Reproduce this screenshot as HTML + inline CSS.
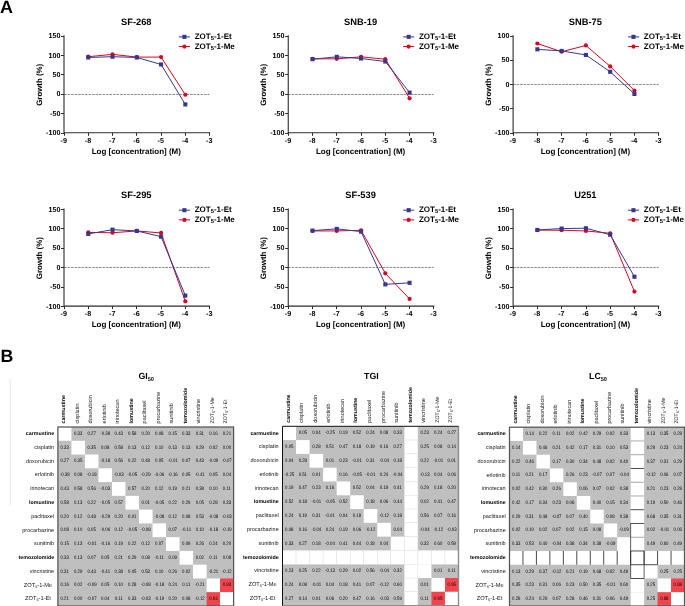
<!DOCTYPE html>
<html><head><meta charset="utf-8"><title>Figure</title>
<style>
html,body{margin:0;padding:0;background:#fff;}
body{width:685px;height:606px;overflow:hidden;font-family:"Liberation Sans",sans-serif;}
svg{display:block;will-change:transform;}
text{font-family:"Liberation Sans",sans-serif;}
</style></head><body>
<svg width="685" height="606" viewBox="0 0 685 606" text-rendering="geometricPrecision">
<rect width="685" height="606" fill="#fff"/>
<text x="0.1" y="12.7" font-size="17.9" font-weight="bold" font-family="Liberation Sans, sans-serif">A</text>
<text x="0.4" y="361.9" font-size="17.8" font-weight="bold" font-family="Liberation Sans, sans-serif">B</text>
<text x="136.3" y="24.6" font-size="9.3" font-weight="bold" text-anchor="middle" font-family="Liberation Sans, sans-serif">SF-268</text>
<line x1="64.0" y1="94.45" x2="209.6" y2="94.45" stroke="#3a3a3a" stroke-width="0.6" stroke-dasharray="2.6 0.9"/>
<path d="M64.00 35.25V132.75H210.10" fill="none" stroke="#2c2c2c" stroke-width="1.1"/>
<line x1="61.0" y1="36.50" x2="64.0" y2="36.50" stroke="#2c2c2c" stroke-width="1"/>
<text x="60.4" y="38.20" font-size="7.2" font-weight="bold" text-anchor="end" font-family="Liberation Sans, sans-serif">150</text>
<line x1="61.0" y1="55.50" x2="64.0" y2="55.50" stroke="#2c2c2c" stroke-width="1"/>
<text x="60.4" y="57.60" font-size="7.2" font-weight="bold" text-anchor="end" font-family="Liberation Sans, sans-serif">100</text>
<line x1="61.0" y1="74.50" x2="64.0" y2="74.50" stroke="#2c2c2c" stroke-width="1"/>
<text x="60.4" y="77.00" font-size="7.2" font-weight="bold" text-anchor="end" font-family="Liberation Sans, sans-serif">50</text>
<line x1="61.0" y1="94.50" x2="64.0" y2="94.50" stroke="#2c2c2c" stroke-width="1"/>
<text x="60.4" y="96.40" font-size="7.2" font-weight="bold" text-anchor="end" font-family="Liberation Sans, sans-serif">0</text>
<line x1="61.0" y1="113.50" x2="64.0" y2="113.50" stroke="#2c2c2c" stroke-width="1"/>
<text x="60.4" y="115.80" font-size="7.2" font-weight="bold" text-anchor="end" font-family="Liberation Sans, sans-serif">-50</text>
<line x1="61.0" y1="133.50" x2="64.0" y2="133.50" stroke="#2c2c2c" stroke-width="1"/>
<text x="60.4" y="135.20" font-size="7.2" font-weight="bold" text-anchor="end" font-family="Liberation Sans, sans-serif">-100</text>
<line x1="64.50" y1="132.8" x2="64.50" y2="135.8" stroke="#2c2c2c" stroke-width="1"/>
<text x="63.70" y="142.75" font-size="7.2" font-weight="bold" text-anchor="middle" font-family="Liberation Sans, sans-serif">-9</text>
<line x1="88.50" y1="132.8" x2="88.50" y2="135.8" stroke="#2c2c2c" stroke-width="1"/>
<text x="87.97" y="142.75" font-size="7.2" font-weight="bold" text-anchor="middle" font-family="Liberation Sans, sans-serif">-8</text>
<line x1="112.50" y1="132.8" x2="112.50" y2="135.8" stroke="#2c2c2c" stroke-width="1"/>
<text x="112.23" y="142.75" font-size="7.2" font-weight="bold" text-anchor="middle" font-family="Liberation Sans, sans-serif">-7</text>
<line x1="136.50" y1="132.8" x2="136.50" y2="135.8" stroke="#2c2c2c" stroke-width="1"/>
<text x="136.50" y="142.75" font-size="7.2" font-weight="bold" text-anchor="middle" font-family="Liberation Sans, sans-serif">-6</text>
<line x1="161.50" y1="132.8" x2="161.50" y2="135.8" stroke="#2c2c2c" stroke-width="1"/>
<text x="160.77" y="142.75" font-size="7.2" font-weight="bold" text-anchor="middle" font-family="Liberation Sans, sans-serif">-5</text>
<line x1="185.50" y1="132.8" x2="185.50" y2="135.8" stroke="#2c2c2c" stroke-width="1"/>
<text x="185.03" y="142.75" font-size="7.2" font-weight="bold" text-anchor="middle" font-family="Liberation Sans, sans-serif">-4</text>
<line x1="209.50" y1="132.8" x2="209.50" y2="135.8" stroke="#2c2c2c" stroke-width="1"/>
<text x="209.30" y="142.75" font-size="7.2" font-weight="bold" text-anchor="middle" font-family="Liberation Sans, sans-serif">-3</text>
<text x="136.3" y="153.75" font-size="8.0" font-weight="bold" text-anchor="middle" font-family="Liberation Sans, sans-serif">Log [concentration] (M)</text>
<text transform="translate(41.5 84.8) rotate(-90)" font-size="7.9" font-weight="bold" text-anchor="middle" font-family="Liberation Sans, sans-serif">Growth (%)</text>
<polyline points="88.27,56.70 112.53,54.37 136.80,57.09 161.07,57.09 185.33,94.73" fill="none" stroke="#d8061f" stroke-width="1.0"/>
<circle cx="88.27" cy="56.70" r="2.1" fill="#d8061f"/>
<circle cx="112.53" cy="54.37" r="2.1" fill="#d8061f"/>
<circle cx="136.80" cy="57.09" r="2.1" fill="#d8061f"/>
<circle cx="161.07" cy="57.09" r="2.1" fill="#d8061f"/>
<circle cx="185.33" cy="94.73" r="2.1" fill="#d8061f"/>
<polyline points="88.27,57.48 112.53,56.70 136.80,57.48 161.07,64.46 185.33,104.43" fill="none" stroke="#37378f" stroke-width="1.0"/>
<rect x="86.22" y="55.43" width="4.1" height="4.1" fill="#37378f"/>
<rect x="110.48" y="54.65" width="4.1" height="4.1" fill="#37378f"/>
<rect x="134.75" y="55.43" width="4.1" height="4.1" fill="#37378f"/>
<rect x="159.02" y="62.41" width="4.1" height="4.1" fill="#37378f"/>
<rect x="183.28" y="102.38" width="4.1" height="4.1" fill="#37378f"/>
<line x1="178.8" y1="36.9" x2="190.0" y2="36.9" stroke="#37378f" stroke-width="1.0"/>
<rect x="182.35" y="34.80" width="4.1" height="4.1" fill="#37378f"/>
<line x1="178.8" y1="46.5" x2="190.0" y2="46.5" stroke="#d8061f" stroke-width="1.0"/>
<circle cx="184.40" cy="46.55" r="2.1" fill="#d8061f"/>
<text x="194.7" y="38.80" font-size="8.0" font-weight="bold" font-family="Liberation Sans, sans-serif">ZOT<tspan font-size="5.8" dy="1.3">5</tspan><tspan dy="-1.3">-1-Et</tspan></text>
<text x="194.7" y="48.50" font-size="8.0" font-weight="bold" font-family="Liberation Sans, sans-serif">ZOT<tspan font-size="5.8" dy="1.3">5</tspan><tspan dy="-1.3">-1-Me</tspan></text>
<text x="360.6" y="24.6" font-size="9.3" font-weight="bold" text-anchor="middle" font-family="Liberation Sans, sans-serif">SNB-19</text>
<line x1="288.2" y1="94.45" x2="433.9" y2="94.45" stroke="#3a3a3a" stroke-width="0.6" stroke-dasharray="2.6 0.9"/>
<path d="M288.25 35.25V132.75H434.35" fill="none" stroke="#2c2c2c" stroke-width="1.1"/>
<line x1="285.2" y1="36.50" x2="288.2" y2="36.50" stroke="#2c2c2c" stroke-width="1"/>
<text x="284.6" y="38.20" font-size="7.2" font-weight="bold" text-anchor="end" font-family="Liberation Sans, sans-serif">150</text>
<line x1="285.2" y1="55.50" x2="288.2" y2="55.50" stroke="#2c2c2c" stroke-width="1"/>
<text x="284.6" y="57.60" font-size="7.2" font-weight="bold" text-anchor="end" font-family="Liberation Sans, sans-serif">100</text>
<line x1="285.2" y1="74.50" x2="288.2" y2="74.50" stroke="#2c2c2c" stroke-width="1"/>
<text x="284.6" y="77.00" font-size="7.2" font-weight="bold" text-anchor="end" font-family="Liberation Sans, sans-serif">50</text>
<line x1="285.2" y1="94.50" x2="288.2" y2="94.50" stroke="#2c2c2c" stroke-width="1"/>
<text x="284.6" y="96.40" font-size="7.2" font-weight="bold" text-anchor="end" font-family="Liberation Sans, sans-serif">0</text>
<line x1="285.2" y1="113.50" x2="288.2" y2="113.50" stroke="#2c2c2c" stroke-width="1"/>
<text x="284.6" y="115.80" font-size="7.2" font-weight="bold" text-anchor="end" font-family="Liberation Sans, sans-serif">-50</text>
<line x1="285.2" y1="133.50" x2="288.2" y2="133.50" stroke="#2c2c2c" stroke-width="1"/>
<text x="284.6" y="135.20" font-size="7.2" font-weight="bold" text-anchor="end" font-family="Liberation Sans, sans-serif">-100</text>
<line x1="288.50" y1="132.8" x2="288.50" y2="135.8" stroke="#2c2c2c" stroke-width="1"/>
<text x="287.95" y="142.75" font-size="7.2" font-weight="bold" text-anchor="middle" font-family="Liberation Sans, sans-serif">-9</text>
<line x1="312.50" y1="132.8" x2="312.50" y2="135.8" stroke="#2c2c2c" stroke-width="1"/>
<text x="312.22" y="142.75" font-size="7.2" font-weight="bold" text-anchor="middle" font-family="Liberation Sans, sans-serif">-8</text>
<line x1="336.50" y1="132.8" x2="336.50" y2="135.8" stroke="#2c2c2c" stroke-width="1"/>
<text x="336.48" y="142.75" font-size="7.2" font-weight="bold" text-anchor="middle" font-family="Liberation Sans, sans-serif">-7</text>
<line x1="361.50" y1="132.8" x2="361.50" y2="135.8" stroke="#2c2c2c" stroke-width="1"/>
<text x="360.75" y="142.75" font-size="7.2" font-weight="bold" text-anchor="middle" font-family="Liberation Sans, sans-serif">-6</text>
<line x1="385.50" y1="132.8" x2="385.50" y2="135.8" stroke="#2c2c2c" stroke-width="1"/>
<text x="385.02" y="142.75" font-size="7.2" font-weight="bold" text-anchor="middle" font-family="Liberation Sans, sans-serif">-5</text>
<line x1="409.50" y1="132.8" x2="409.50" y2="135.8" stroke="#2c2c2c" stroke-width="1"/>
<text x="409.28" y="142.75" font-size="7.2" font-weight="bold" text-anchor="middle" font-family="Liberation Sans, sans-serif">-4</text>
<line x1="433.50" y1="132.8" x2="433.50" y2="135.8" stroke="#2c2c2c" stroke-width="1"/>
<text x="433.55" y="142.75" font-size="7.2" font-weight="bold" text-anchor="middle" font-family="Liberation Sans, sans-serif">-3</text>
<text x="360.6" y="153.75" font-size="8.0" font-weight="bold" text-anchor="middle" font-family="Liberation Sans, sans-serif">Log [concentration] (M)</text>
<text transform="translate(265.8 84.8) rotate(-90)" font-size="7.9" font-weight="bold" text-anchor="middle" font-family="Liberation Sans, sans-serif">Growth (%)</text>
<polyline points="312.52,58.84 336.78,58.84 361.05,56.82 385.32,59.19 409.58,98.30" fill="none" stroke="#d8061f" stroke-width="1.0"/>
<circle cx="312.52" cy="58.84" r="2.1" fill="#d8061f"/>
<circle cx="336.78" cy="58.84" r="2.1" fill="#d8061f"/>
<circle cx="361.05" cy="56.82" r="2.1" fill="#d8061f"/>
<circle cx="385.32" cy="59.19" r="2.1" fill="#d8061f"/>
<circle cx="409.58" cy="98.30" r="2.1" fill="#d8061f"/>
<polyline points="312.52,59.19 336.78,56.82 361.05,58.49 385.32,61.51 409.58,92.63" fill="none" stroke="#37378f" stroke-width="1.0"/>
<rect x="310.47" y="57.14" width="4.1" height="4.1" fill="#37378f"/>
<rect x="334.73" y="54.77" width="4.1" height="4.1" fill="#37378f"/>
<rect x="359.00" y="56.44" width="4.1" height="4.1" fill="#37378f"/>
<rect x="383.27" y="59.46" width="4.1" height="4.1" fill="#37378f"/>
<rect x="407.53" y="90.58" width="4.1" height="4.1" fill="#37378f"/>
<line x1="403.1" y1="36.9" x2="414.2" y2="36.9" stroke="#37378f" stroke-width="1.0"/>
<rect x="406.60" y="34.80" width="4.1" height="4.1" fill="#37378f"/>
<line x1="403.1" y1="46.5" x2="414.2" y2="46.5" stroke="#d8061f" stroke-width="1.0"/>
<circle cx="408.65" cy="46.55" r="2.1" fill="#d8061f"/>
<text x="418.9" y="38.80" font-size="8.0" font-weight="bold" font-family="Liberation Sans, sans-serif">ZOT<tspan font-size="5.8" dy="1.3">5</tspan><tspan dy="-1.3">-1-Et</tspan></text>
<text x="418.9" y="48.50" font-size="8.0" font-weight="bold" font-family="Liberation Sans, sans-serif">ZOT<tspan font-size="5.8" dy="1.3">5</tspan><tspan dy="-1.3">-1-Me</tspan></text>
<text x="585.4" y="24.6" font-size="9.3" font-weight="bold" text-anchor="middle" font-family="Liberation Sans, sans-serif">SNB-75</text>
<line x1="513.1" y1="84.45" x2="658.7" y2="84.45" stroke="#3a3a3a" stroke-width="0.6" stroke-dasharray="2.6 0.9"/>
<path d="M513.10 35.25V132.75H659.20" fill="none" stroke="#2c2c2c" stroke-width="1.1"/>
<line x1="510.1" y1="36.50" x2="513.1" y2="36.50" stroke="#2c2c2c" stroke-width="1"/>
<text x="509.5" y="38.20" font-size="7.2" font-weight="bold" text-anchor="end" font-family="Liberation Sans, sans-serif">100</text>
<line x1="510.1" y1="60.50" x2="513.1" y2="60.50" stroke="#2c2c2c" stroke-width="1"/>
<text x="509.5" y="62.45" font-size="7.2" font-weight="bold" text-anchor="end" font-family="Liberation Sans, sans-serif">50</text>
<line x1="510.1" y1="84.50" x2="513.1" y2="84.50" stroke="#2c2c2c" stroke-width="1"/>
<text x="509.5" y="86.70" font-size="7.2" font-weight="bold" text-anchor="end" font-family="Liberation Sans, sans-serif">0</text>
<line x1="510.1" y1="108.50" x2="513.1" y2="108.50" stroke="#2c2c2c" stroke-width="1"/>
<text x="509.5" y="110.95" font-size="7.2" font-weight="bold" text-anchor="end" font-family="Liberation Sans, sans-serif">-50</text>
<line x1="510.1" y1="133.50" x2="513.1" y2="133.50" stroke="#2c2c2c" stroke-width="1"/>
<text x="509.5" y="135.20" font-size="7.2" font-weight="bold" text-anchor="end" font-family="Liberation Sans, sans-serif">-100</text>
<line x1="513.50" y1="132.8" x2="513.50" y2="135.8" stroke="#2c2c2c" stroke-width="1"/>
<text x="512.80" y="142.75" font-size="7.2" font-weight="bold" text-anchor="middle" font-family="Liberation Sans, sans-serif">-9</text>
<line x1="537.50" y1="132.8" x2="537.50" y2="135.8" stroke="#2c2c2c" stroke-width="1"/>
<text x="537.07" y="142.75" font-size="7.2" font-weight="bold" text-anchor="middle" font-family="Liberation Sans, sans-serif">-8</text>
<line x1="561.50" y1="132.8" x2="561.50" y2="135.8" stroke="#2c2c2c" stroke-width="1"/>
<text x="561.33" y="142.75" font-size="7.2" font-weight="bold" text-anchor="middle" font-family="Liberation Sans, sans-serif">-7</text>
<line x1="586.50" y1="132.8" x2="586.50" y2="135.8" stroke="#2c2c2c" stroke-width="1"/>
<text x="585.60" y="142.75" font-size="7.2" font-weight="bold" text-anchor="middle" font-family="Liberation Sans, sans-serif">-6</text>
<line x1="610.50" y1="132.8" x2="610.50" y2="135.8" stroke="#2c2c2c" stroke-width="1"/>
<text x="609.87" y="142.75" font-size="7.2" font-weight="bold" text-anchor="middle" font-family="Liberation Sans, sans-serif">-5</text>
<line x1="634.50" y1="132.8" x2="634.50" y2="135.8" stroke="#2c2c2c" stroke-width="1"/>
<text x="634.13" y="142.75" font-size="7.2" font-weight="bold" text-anchor="middle" font-family="Liberation Sans, sans-serif">-4</text>
<line x1="658.50" y1="132.8" x2="658.50" y2="135.8" stroke="#2c2c2c" stroke-width="1"/>
<text x="658.40" y="142.75" font-size="7.2" font-weight="bold" text-anchor="middle" font-family="Liberation Sans, sans-serif">-3</text>
<text x="585.4" y="153.75" font-size="8.0" font-weight="bold" text-anchor="middle" font-family="Liberation Sans, sans-serif">Log [concentration] (M)</text>
<text transform="translate(490.6 84.8) rotate(-90)" font-size="7.9" font-weight="bold" text-anchor="middle" font-family="Liberation Sans, sans-serif">Growth (%)</text>
<polyline points="537.37,43.51 561.63,51.75 585.90,45.45 610.17,66.40 634.43,90.56" fill="none" stroke="#d8061f" stroke-width="1.0"/>
<circle cx="537.37" cy="43.51" r="2.1" fill="#d8061f"/>
<circle cx="561.63" cy="51.75" r="2.1" fill="#d8061f"/>
<circle cx="585.90" cy="45.45" r="2.1" fill="#d8061f"/>
<circle cx="610.17" cy="66.40" r="2.1" fill="#d8061f"/>
<circle cx="634.43" cy="90.56" r="2.1" fill="#d8061f"/>
<polyline points="537.37,49.33 561.63,50.93 585.90,54.96 610.17,71.79 634.43,93.95" fill="none" stroke="#37378f" stroke-width="1.0"/>
<rect x="535.32" y="47.28" width="4.1" height="4.1" fill="#37378f"/>
<rect x="559.58" y="48.88" width="4.1" height="4.1" fill="#37378f"/>
<rect x="583.85" y="52.91" width="4.1" height="4.1" fill="#37378f"/>
<rect x="608.12" y="69.74" width="4.1" height="4.1" fill="#37378f"/>
<rect x="632.38" y="91.90" width="4.1" height="4.1" fill="#37378f"/>
<line x1="627.9" y1="36.9" x2="639.1" y2="36.9" stroke="#37378f" stroke-width="1.0"/>
<rect x="631.45" y="34.80" width="4.1" height="4.1" fill="#37378f"/>
<line x1="627.9" y1="46.5" x2="639.1" y2="46.5" stroke="#d8061f" stroke-width="1.0"/>
<circle cx="633.50" cy="46.55" r="2.1" fill="#d8061f"/>
<text x="643.8" y="38.80" font-size="8.0" font-weight="bold" font-family="Liberation Sans, sans-serif">ZOT<tspan font-size="5.8" dy="1.3">5</tspan><tspan dy="-1.3">-1-Et</tspan></text>
<text x="643.8" y="48.50" font-size="8.0" font-weight="bold" font-family="Liberation Sans, sans-serif">ZOT<tspan font-size="5.8" dy="1.3">5</tspan><tspan dy="-1.3">-1-Me</tspan></text>
<text x="136.3" y="197.9" font-size="9.3" font-weight="bold" text-anchor="middle" font-family="Liberation Sans, sans-serif">SF-295</text>
<line x1="64.0" y1="267.45" x2="209.6" y2="267.45" stroke="#3a3a3a" stroke-width="0.6" stroke-dasharray="2.6 0.9"/>
<path d="M64.00 208.60V306.10H210.10" fill="none" stroke="#2c2c2c" stroke-width="1.1"/>
<line x1="61.0" y1="209.50" x2="64.0" y2="209.50" stroke="#2c2c2c" stroke-width="1"/>
<text x="60.4" y="211.55" font-size="7.2" font-weight="bold" text-anchor="end" font-family="Liberation Sans, sans-serif">150</text>
<line x1="61.0" y1="228.50" x2="64.0" y2="228.50" stroke="#2c2c2c" stroke-width="1"/>
<text x="60.4" y="230.95" font-size="7.2" font-weight="bold" text-anchor="end" font-family="Liberation Sans, sans-serif">100</text>
<line x1="61.0" y1="248.50" x2="64.0" y2="248.50" stroke="#2c2c2c" stroke-width="1"/>
<text x="60.4" y="250.35" font-size="7.2" font-weight="bold" text-anchor="end" font-family="Liberation Sans, sans-serif">50</text>
<line x1="61.0" y1="267.50" x2="64.0" y2="267.50" stroke="#2c2c2c" stroke-width="1"/>
<text x="60.4" y="269.75" font-size="7.2" font-weight="bold" text-anchor="end" font-family="Liberation Sans, sans-serif">0</text>
<line x1="61.0" y1="287.50" x2="64.0" y2="287.50" stroke="#2c2c2c" stroke-width="1"/>
<text x="60.4" y="289.15" font-size="7.2" font-weight="bold" text-anchor="end" font-family="Liberation Sans, sans-serif">-50</text>
<line x1="61.0" y1="306.50" x2="64.0" y2="306.50" stroke="#2c2c2c" stroke-width="1"/>
<text x="60.4" y="308.55" font-size="7.2" font-weight="bold" text-anchor="end" font-family="Liberation Sans, sans-serif">-100</text>
<line x1="64.50" y1="306.1" x2="64.50" y2="309.1" stroke="#2c2c2c" stroke-width="1"/>
<text x="63.70" y="316.10" font-size="7.2" font-weight="bold" text-anchor="middle" font-family="Liberation Sans, sans-serif">-9</text>
<line x1="88.50" y1="306.1" x2="88.50" y2="309.1" stroke="#2c2c2c" stroke-width="1"/>
<text x="87.97" y="316.10" font-size="7.2" font-weight="bold" text-anchor="middle" font-family="Liberation Sans, sans-serif">-8</text>
<line x1="112.50" y1="306.1" x2="112.50" y2="309.1" stroke="#2c2c2c" stroke-width="1"/>
<text x="112.23" y="316.10" font-size="7.2" font-weight="bold" text-anchor="middle" font-family="Liberation Sans, sans-serif">-7</text>
<line x1="136.50" y1="306.1" x2="136.50" y2="309.1" stroke="#2c2c2c" stroke-width="1"/>
<text x="136.50" y="316.10" font-size="7.2" font-weight="bold" text-anchor="middle" font-family="Liberation Sans, sans-serif">-6</text>
<line x1="161.50" y1="306.1" x2="161.50" y2="309.1" stroke="#2c2c2c" stroke-width="1"/>
<text x="160.77" y="316.10" font-size="7.2" font-weight="bold" text-anchor="middle" font-family="Liberation Sans, sans-serif">-5</text>
<line x1="185.50" y1="306.1" x2="185.50" y2="309.1" stroke="#2c2c2c" stroke-width="1"/>
<text x="185.03" y="316.10" font-size="7.2" font-weight="bold" text-anchor="middle" font-family="Liberation Sans, sans-serif">-4</text>
<line x1="209.50" y1="306.1" x2="209.50" y2="309.1" stroke="#2c2c2c" stroke-width="1"/>
<text x="209.30" y="316.10" font-size="7.2" font-weight="bold" text-anchor="middle" font-family="Liberation Sans, sans-serif">-3</text>
<text x="136.3" y="327.10" font-size="8.0" font-weight="bold" text-anchor="middle" font-family="Liberation Sans, sans-serif">Log [concentration] (M)</text>
<text transform="translate(41.5 258.2) rotate(-90)" font-size="7.9" font-weight="bold" text-anchor="middle" font-family="Liberation Sans, sans-serif">Growth (%)</text>
<polyline points="88.27,232.38 112.53,232.77 136.80,230.94 161.07,232.96 185.33,301.33" fill="none" stroke="#d8061f" stroke-width="1.0"/>
<circle cx="88.27" cy="232.38" r="2.1" fill="#d8061f"/>
<circle cx="112.53" cy="232.77" r="2.1" fill="#d8061f"/>
<circle cx="136.80" cy="230.94" r="2.1" fill="#d8061f"/>
<circle cx="161.07" cy="232.96" r="2.1" fill="#d8061f"/>
<circle cx="185.33" cy="301.33" r="2.1" fill="#d8061f"/>
<polyline points="88.27,233.93 112.53,229.66 136.80,230.94 161.07,236.65 185.33,295.62" fill="none" stroke="#37378f" stroke-width="1.0"/>
<rect x="86.22" y="231.88" width="4.1" height="4.1" fill="#37378f"/>
<rect x="110.48" y="227.61" width="4.1" height="4.1" fill="#37378f"/>
<rect x="134.75" y="228.89" width="4.1" height="4.1" fill="#37378f"/>
<rect x="159.02" y="234.60" width="4.1" height="4.1" fill="#37378f"/>
<rect x="183.28" y="293.57" width="4.1" height="4.1" fill="#37378f"/>
<line x1="178.8" y1="210.2" x2="190.0" y2="210.2" stroke="#37378f" stroke-width="1.0"/>
<rect x="182.35" y="208.15" width="4.1" height="4.1" fill="#37378f"/>
<line x1="178.8" y1="219.9" x2="190.0" y2="219.9" stroke="#d8061f" stroke-width="1.0"/>
<circle cx="184.40" cy="219.90" r="2.1" fill="#d8061f"/>
<text x="194.7" y="212.15" font-size="8.0" font-weight="bold" font-family="Liberation Sans, sans-serif">ZOT<tspan font-size="5.8" dy="1.3">5</tspan><tspan dy="-1.3">-1-Et</tspan></text>
<text x="194.7" y="221.85" font-size="8.0" font-weight="bold" font-family="Liberation Sans, sans-serif">ZOT<tspan font-size="5.8" dy="1.3">5</tspan><tspan dy="-1.3">-1-Me</tspan></text>
<text x="360.6" y="197.9" font-size="9.3" font-weight="bold" text-anchor="middle" font-family="Liberation Sans, sans-serif">SF-539</text>
<line x1="288.2" y1="267.45" x2="433.9" y2="267.45" stroke="#3a3a3a" stroke-width="0.6" stroke-dasharray="2.6 0.9"/>
<path d="M288.25 208.60V306.10H434.35" fill="none" stroke="#2c2c2c" stroke-width="1.1"/>
<line x1="285.2" y1="209.50" x2="288.2" y2="209.50" stroke="#2c2c2c" stroke-width="1"/>
<text x="284.6" y="211.55" font-size="7.2" font-weight="bold" text-anchor="end" font-family="Liberation Sans, sans-serif">150</text>
<line x1="285.2" y1="228.50" x2="288.2" y2="228.50" stroke="#2c2c2c" stroke-width="1"/>
<text x="284.6" y="230.95" font-size="7.2" font-weight="bold" text-anchor="end" font-family="Liberation Sans, sans-serif">100</text>
<line x1="285.2" y1="248.50" x2="288.2" y2="248.50" stroke="#2c2c2c" stroke-width="1"/>
<text x="284.6" y="250.35" font-size="7.2" font-weight="bold" text-anchor="end" font-family="Liberation Sans, sans-serif">50</text>
<line x1="285.2" y1="267.50" x2="288.2" y2="267.50" stroke="#2c2c2c" stroke-width="1"/>
<text x="284.6" y="269.75" font-size="7.2" font-weight="bold" text-anchor="end" font-family="Liberation Sans, sans-serif">0</text>
<line x1="285.2" y1="287.50" x2="288.2" y2="287.50" stroke="#2c2c2c" stroke-width="1"/>
<text x="284.6" y="289.15" font-size="7.2" font-weight="bold" text-anchor="end" font-family="Liberation Sans, sans-serif">-50</text>
<line x1="285.2" y1="306.50" x2="288.2" y2="306.50" stroke="#2c2c2c" stroke-width="1"/>
<text x="284.6" y="308.55" font-size="7.2" font-weight="bold" text-anchor="end" font-family="Liberation Sans, sans-serif">-100</text>
<line x1="288.50" y1="306.1" x2="288.50" y2="309.1" stroke="#2c2c2c" stroke-width="1"/>
<text x="287.95" y="316.10" font-size="7.2" font-weight="bold" text-anchor="middle" font-family="Liberation Sans, sans-serif">-9</text>
<line x1="312.50" y1="306.1" x2="312.50" y2="309.1" stroke="#2c2c2c" stroke-width="1"/>
<text x="312.22" y="316.10" font-size="7.2" font-weight="bold" text-anchor="middle" font-family="Liberation Sans, sans-serif">-8</text>
<line x1="336.50" y1="306.1" x2="336.50" y2="309.1" stroke="#2c2c2c" stroke-width="1"/>
<text x="336.48" y="316.10" font-size="7.2" font-weight="bold" text-anchor="middle" font-family="Liberation Sans, sans-serif">-7</text>
<line x1="361.50" y1="306.1" x2="361.50" y2="309.1" stroke="#2c2c2c" stroke-width="1"/>
<text x="360.75" y="316.10" font-size="7.2" font-weight="bold" text-anchor="middle" font-family="Liberation Sans, sans-serif">-6</text>
<line x1="385.50" y1="306.1" x2="385.50" y2="309.1" stroke="#2c2c2c" stroke-width="1"/>
<text x="385.02" y="316.10" font-size="7.2" font-weight="bold" text-anchor="middle" font-family="Liberation Sans, sans-serif">-5</text>
<line x1="409.50" y1="306.1" x2="409.50" y2="309.1" stroke="#2c2c2c" stroke-width="1"/>
<text x="409.28" y="316.10" font-size="7.2" font-weight="bold" text-anchor="middle" font-family="Liberation Sans, sans-serif">-4</text>
<line x1="433.50" y1="306.1" x2="433.50" y2="309.1" stroke="#2c2c2c" stroke-width="1"/>
<text x="433.55" y="316.10" font-size="7.2" font-weight="bold" text-anchor="middle" font-family="Liberation Sans, sans-serif">-3</text>
<text x="360.6" y="327.10" font-size="8.0" font-weight="bold" text-anchor="middle" font-family="Liberation Sans, sans-serif">Log [concentration] (M)</text>
<text transform="translate(265.8 258.2) rotate(-90)" font-size="7.9" font-weight="bold" text-anchor="middle" font-family="Liberation Sans, sans-serif">Growth (%)</text>
<polyline points="312.52,230.94 336.78,230.94 361.05,230.25 385.32,273.35 409.58,298.96" fill="none" stroke="#d8061f" stroke-width="1.0"/>
<circle cx="312.52" cy="230.94" r="2.1" fill="#d8061f"/>
<circle cx="336.78" cy="230.94" r="2.1" fill="#d8061f"/>
<circle cx="361.05" cy="230.25" r="2.1" fill="#d8061f"/>
<circle cx="385.32" cy="273.35" r="2.1" fill="#d8061f"/>
<circle cx="409.58" cy="298.96" r="2.1" fill="#d8061f"/>
<polyline points="312.52,230.60 336.78,228.89 361.05,231.60 385.32,284.37 409.58,282.82" fill="none" stroke="#37378f" stroke-width="1.0"/>
<rect x="310.47" y="228.55" width="4.1" height="4.1" fill="#37378f"/>
<rect x="334.73" y="226.84" width="4.1" height="4.1" fill="#37378f"/>
<rect x="359.00" y="229.55" width="4.1" height="4.1" fill="#37378f"/>
<rect x="383.27" y="282.32" width="4.1" height="4.1" fill="#37378f"/>
<rect x="407.53" y="280.77" width="4.1" height="4.1" fill="#37378f"/>
<line x1="403.1" y1="210.2" x2="414.2" y2="210.2" stroke="#37378f" stroke-width="1.0"/>
<rect x="406.60" y="208.15" width="4.1" height="4.1" fill="#37378f"/>
<line x1="403.1" y1="219.9" x2="414.2" y2="219.9" stroke="#d8061f" stroke-width="1.0"/>
<circle cx="408.65" cy="219.90" r="2.1" fill="#d8061f"/>
<text x="418.9" y="212.15" font-size="8.0" font-weight="bold" font-family="Liberation Sans, sans-serif">ZOT<tspan font-size="5.8" dy="1.3">5</tspan><tspan dy="-1.3">-1-Et</tspan></text>
<text x="418.9" y="221.85" font-size="8.0" font-weight="bold" font-family="Liberation Sans, sans-serif">ZOT<tspan font-size="5.8" dy="1.3">5</tspan><tspan dy="-1.3">-1-Me</tspan></text>
<text x="585.4" y="197.9" font-size="9.3" font-weight="bold" text-anchor="middle" font-family="Liberation Sans, sans-serif">U251</text>
<line x1="513.1" y1="267.45" x2="658.7" y2="267.45" stroke="#3a3a3a" stroke-width="0.6" stroke-dasharray="2.6 0.9"/>
<path d="M513.10 208.60V306.10H659.20" fill="none" stroke="#2c2c2c" stroke-width="1.1"/>
<line x1="510.1" y1="209.50" x2="513.1" y2="209.50" stroke="#2c2c2c" stroke-width="1"/>
<text x="509.5" y="211.55" font-size="7.2" font-weight="bold" text-anchor="end" font-family="Liberation Sans, sans-serif">150</text>
<line x1="510.1" y1="228.50" x2="513.1" y2="228.50" stroke="#2c2c2c" stroke-width="1"/>
<text x="509.5" y="230.95" font-size="7.2" font-weight="bold" text-anchor="end" font-family="Liberation Sans, sans-serif">100</text>
<line x1="510.1" y1="248.50" x2="513.1" y2="248.50" stroke="#2c2c2c" stroke-width="1"/>
<text x="509.5" y="250.35" font-size="7.2" font-weight="bold" text-anchor="end" font-family="Liberation Sans, sans-serif">50</text>
<line x1="510.1" y1="267.50" x2="513.1" y2="267.50" stroke="#2c2c2c" stroke-width="1"/>
<text x="509.5" y="269.75" font-size="7.2" font-weight="bold" text-anchor="end" font-family="Liberation Sans, sans-serif">0</text>
<line x1="510.1" y1="287.50" x2="513.1" y2="287.50" stroke="#2c2c2c" stroke-width="1"/>
<text x="509.5" y="289.15" font-size="7.2" font-weight="bold" text-anchor="end" font-family="Liberation Sans, sans-serif">-50</text>
<line x1="510.1" y1="306.50" x2="513.1" y2="306.50" stroke="#2c2c2c" stroke-width="1"/>
<text x="509.5" y="308.55" font-size="7.2" font-weight="bold" text-anchor="end" font-family="Liberation Sans, sans-serif">-100</text>
<line x1="513.50" y1="306.1" x2="513.50" y2="309.1" stroke="#2c2c2c" stroke-width="1"/>
<text x="512.80" y="316.10" font-size="7.2" font-weight="bold" text-anchor="middle" font-family="Liberation Sans, sans-serif">-9</text>
<line x1="537.50" y1="306.1" x2="537.50" y2="309.1" stroke="#2c2c2c" stroke-width="1"/>
<text x="537.07" y="316.10" font-size="7.2" font-weight="bold" text-anchor="middle" font-family="Liberation Sans, sans-serif">-8</text>
<line x1="561.50" y1="306.1" x2="561.50" y2="309.1" stroke="#2c2c2c" stroke-width="1"/>
<text x="561.33" y="316.10" font-size="7.2" font-weight="bold" text-anchor="middle" font-family="Liberation Sans, sans-serif">-7</text>
<line x1="586.50" y1="306.1" x2="586.50" y2="309.1" stroke="#2c2c2c" stroke-width="1"/>
<text x="585.60" y="316.10" font-size="7.2" font-weight="bold" text-anchor="middle" font-family="Liberation Sans, sans-serif">-6</text>
<line x1="610.50" y1="306.1" x2="610.50" y2="309.1" stroke="#2c2c2c" stroke-width="1"/>
<text x="609.87" y="316.10" font-size="7.2" font-weight="bold" text-anchor="middle" font-family="Liberation Sans, sans-serif">-5</text>
<line x1="634.50" y1="306.1" x2="634.50" y2="309.1" stroke="#2c2c2c" stroke-width="1"/>
<text x="634.13" y="316.10" font-size="7.2" font-weight="bold" text-anchor="middle" font-family="Liberation Sans, sans-serif">-4</text>
<line x1="658.50" y1="306.1" x2="658.50" y2="309.1" stroke="#2c2c2c" stroke-width="1"/>
<text x="658.40" y="316.10" font-size="7.2" font-weight="bold" text-anchor="middle" font-family="Liberation Sans, sans-serif">-3</text>
<text x="585.4" y="327.10" font-size="8.0" font-weight="bold" text-anchor="middle" font-family="Liberation Sans, sans-serif">Log [concentration] (M)</text>
<text transform="translate(490.6 258.2) rotate(-90)" font-size="7.9" font-weight="bold" text-anchor="middle" font-family="Liberation Sans, sans-serif">Growth (%)</text>
<polyline points="537.37,230.05 561.63,230.25 585.90,230.94 610.17,233.27 634.43,291.55" fill="none" stroke="#d8061f" stroke-width="1.0"/>
<circle cx="537.37" cy="230.05" r="2.1" fill="#d8061f"/>
<circle cx="561.63" cy="230.25" r="2.1" fill="#d8061f"/>
<circle cx="585.90" cy="230.94" r="2.1" fill="#d8061f"/>
<circle cx="610.17" cy="233.27" r="2.1" fill="#d8061f"/>
<circle cx="634.43" cy="291.55" r="2.1" fill="#d8061f"/>
<polyline points="537.37,229.94 561.63,228.58 585.90,228.23 610.17,234.71 634.43,276.73" fill="none" stroke="#37378f" stroke-width="1.0"/>
<rect x="535.32" y="227.89" width="4.1" height="4.1" fill="#37378f"/>
<rect x="559.58" y="226.53" width="4.1" height="4.1" fill="#37378f"/>
<rect x="583.85" y="226.18" width="4.1" height="4.1" fill="#37378f"/>
<rect x="608.12" y="232.66" width="4.1" height="4.1" fill="#37378f"/>
<rect x="632.38" y="274.68" width="4.1" height="4.1" fill="#37378f"/>
<line x1="627.9" y1="210.2" x2="639.1" y2="210.2" stroke="#37378f" stroke-width="1.0"/>
<rect x="631.45" y="208.15" width="4.1" height="4.1" fill="#37378f"/>
<line x1="627.9" y1="219.9" x2="639.1" y2="219.9" stroke="#d8061f" stroke-width="1.0"/>
<circle cx="633.50" cy="219.90" r="2.1" fill="#d8061f"/>
<text x="643.8" y="212.15" font-size="8.0" font-weight="bold" font-family="Liberation Sans, sans-serif">ZOT<tspan font-size="5.8" dy="1.3">5</tspan><tspan dy="-1.3">-1-Et</tspan></text>
<text x="643.8" y="221.85" font-size="8.0" font-weight="bold" font-family="Liberation Sans, sans-serif">ZOT<tspan font-size="5.8" dy="1.3">5</tspan><tspan dy="-1.3">-1-Me</tspan></text>
<line x1="10.3" y1="379" x2="10.3" y2="505" stroke="#dcdcdc" stroke-width="0.7"/>
<text x="146.2" y="379.0" font-size="8.8" font-weight="bold" text-anchor="middle" font-family="Liberation Sans, sans-serif">GI<tspan font-size="5.6" dy="1.8">50</tspan></text>
<rect x="57.90" y="427.00" width="175.70" height="179.00" fill="#bfbfbf"/>
<rect x="57.90" y="427.00" width="13.52" height="13.77" fill="#fff"/>
<text transform="translate(78.17 434.93) scale(0.86 1)" font-size="5" text-anchor="middle" fill="#000" font-family="Liberation Sans, sans-serif">0.33</text>
<text transform="translate(91.69 434.93) scale(0.86 1)" font-size="5" text-anchor="middle" fill="#000" font-family="Liberation Sans, sans-serif">0.27</text>
<text transform="translate(105.20 434.93) scale(0.86 1)" font-size="5" text-anchor="middle" fill="#000" font-family="Liberation Sans, sans-serif">-0.38</text>
<text transform="translate(118.72 434.93) scale(0.86 1)" font-size="5" text-anchor="middle" fill="#000" font-family="Liberation Sans, sans-serif">0.43</text>
<text transform="translate(132.23 434.93) scale(0.86 1)" font-size="5" text-anchor="middle" fill="#000" font-family="Liberation Sans, sans-serif">0.58</text>
<text transform="translate(145.75 434.93) scale(0.86 1)" font-size="5" text-anchor="middle" fill="#000" font-family="Liberation Sans, sans-serif">0.20</text>
<text transform="translate(159.27 434.93) scale(0.86 1)" font-size="5" text-anchor="middle" fill="#000" font-family="Liberation Sans, sans-serif">0.08</text>
<text transform="translate(172.78 434.93) scale(0.86 1)" font-size="5" text-anchor="middle" fill="#000" font-family="Liberation Sans, sans-serif">0.15</text>
<text transform="translate(186.30 434.93) scale(0.86 1)" font-size="5" text-anchor="middle" fill="#000" font-family="Liberation Sans, sans-serif">0.33</text>
<text transform="translate(199.81 434.93) scale(0.86 1)" font-size="5" text-anchor="middle" fill="#000" font-family="Liberation Sans, sans-serif">0.31</text>
<text transform="translate(213.33 434.93) scale(0.86 1)" font-size="5" text-anchor="middle" fill="#000" font-family="Liberation Sans, sans-serif">0.16</text>
<text transform="translate(226.84 434.93) scale(0.86 1)" font-size="5" text-anchor="middle" fill="#000" font-family="Liberation Sans, sans-serif">0.21</text>
<text transform="translate(64.66 448.70) scale(0.86 1)" font-size="5" text-anchor="middle" fill="#000" font-family="Liberation Sans, sans-serif">0.33</text>
<rect x="71.42" y="440.77" width="13.52" height="13.77" fill="#fff"/>
<text transform="translate(91.69 448.70) scale(0.86 1)" font-size="5" text-anchor="middle" fill="#000" font-family="Liberation Sans, sans-serif">0.35</text>
<text transform="translate(105.20 448.70) scale(0.86 1)" font-size="5" text-anchor="middle" fill="#000" font-family="Liberation Sans, sans-serif">0.08</text>
<text transform="translate(118.72 448.70) scale(0.86 1)" font-size="5" text-anchor="middle" fill="#000" font-family="Liberation Sans, sans-serif">0.58</text>
<text transform="translate(132.23 448.70) scale(0.86 1)" font-size="5" text-anchor="middle" fill="#000" font-family="Liberation Sans, sans-serif">0.13</text>
<text transform="translate(145.75 448.70) scale(0.86 1)" font-size="5" text-anchor="middle" fill="#000" font-family="Liberation Sans, sans-serif">0.12</text>
<text transform="translate(159.27 448.70) scale(0.86 1)" font-size="5" text-anchor="middle" fill="#000" font-family="Liberation Sans, sans-serif">0.10</text>
<text transform="translate(172.78 448.70) scale(0.86 1)" font-size="5" text-anchor="middle" fill="#000" font-family="Liberation Sans, sans-serif">0.13</text>
<text transform="translate(186.30 448.70) scale(0.86 1)" font-size="5" text-anchor="middle" fill="#000" font-family="Liberation Sans, sans-serif">0.13</text>
<text transform="translate(199.81 448.70) scale(0.86 1)" font-size="5" text-anchor="middle" fill="#000" font-family="Liberation Sans, sans-serif">0.29</text>
<text transform="translate(213.33 448.70) scale(0.86 1)" font-size="5" text-anchor="middle" fill="#000" font-family="Liberation Sans, sans-serif">0.02</text>
<text transform="translate(226.84 448.70) scale(0.86 1)" font-size="5" text-anchor="middle" fill="#000" font-family="Liberation Sans, sans-serif">0.00</text>
<text transform="translate(64.66 462.47) scale(0.86 1)" font-size="5" text-anchor="middle" fill="#000" font-family="Liberation Sans, sans-serif">0.27</text>
<text transform="translate(78.17 462.47) scale(0.86 1)" font-size="5" text-anchor="middle" fill="#000" font-family="Liberation Sans, sans-serif">0.35</text>
<rect x="84.93" y="454.54" width="13.52" height="13.77" fill="#fff"/>
<text transform="translate(105.20 462.47) scale(0.86 1)" font-size="5" text-anchor="middle" fill="#000" font-family="Liberation Sans, sans-serif">-0.18</text>
<text transform="translate(118.72 462.47) scale(0.86 1)" font-size="5" text-anchor="middle" fill="#000" font-family="Liberation Sans, sans-serif">0.56</text>
<text transform="translate(132.23 462.47) scale(0.86 1)" font-size="5" text-anchor="middle" fill="#000" font-family="Liberation Sans, sans-serif">0.22</text>
<text transform="translate(145.75 462.47) scale(0.86 1)" font-size="5" text-anchor="middle" fill="#000" font-family="Liberation Sans, sans-serif">0.48</text>
<text transform="translate(159.27 462.47) scale(0.86 1)" font-size="5" text-anchor="middle" fill="#000" font-family="Liberation Sans, sans-serif">0.05</text>
<text transform="translate(172.78 462.47) scale(0.86 1)" font-size="5" text-anchor="middle" fill="#000" font-family="Liberation Sans, sans-serif">-0.01</text>
<text transform="translate(186.30 462.47) scale(0.86 1)" font-size="5" text-anchor="middle" fill="#000" font-family="Liberation Sans, sans-serif">0.07</text>
<text transform="translate(199.81 462.47) scale(0.86 1)" font-size="5" text-anchor="middle" fill="#000" font-family="Liberation Sans, sans-serif">0.43</text>
<text transform="translate(213.33 462.47) scale(0.86 1)" font-size="5" text-anchor="middle" fill="#000" font-family="Liberation Sans, sans-serif">-0.09</text>
<text transform="translate(226.84 462.47) scale(0.86 1)" font-size="5" text-anchor="middle" fill="#000" font-family="Liberation Sans, sans-serif">-0.07</text>
<text transform="translate(64.66 476.24) scale(0.86 1)" font-size="5" text-anchor="middle" fill="#000" font-family="Liberation Sans, sans-serif">-0.38</text>
<text transform="translate(78.17 476.24) scale(0.86 1)" font-size="5" text-anchor="middle" fill="#000" font-family="Liberation Sans, sans-serif">0.08</text>
<text transform="translate(91.69 476.24) scale(0.86 1)" font-size="5" text-anchor="middle" fill="#000" font-family="Liberation Sans, sans-serif">-0.18</text>
<rect x="98.45" y="468.31" width="13.52" height="13.77" fill="#fff"/>
<text transform="translate(118.72 476.24) scale(0.86 1)" font-size="5" text-anchor="middle" fill="#000" font-family="Liberation Sans, sans-serif">-0.03</text>
<text transform="translate(132.23 476.24) scale(0.86 1)" font-size="5" text-anchor="middle" fill="#000" font-family="Liberation Sans, sans-serif">-0.05</text>
<text transform="translate(145.75 476.24) scale(0.86 1)" font-size="5" text-anchor="middle" fill="#000" font-family="Liberation Sans, sans-serif">-0.29</text>
<text transform="translate(159.27 476.24) scale(0.86 1)" font-size="5" text-anchor="middle" fill="#000" font-family="Liberation Sans, sans-serif">-0.06</text>
<text transform="translate(172.78 476.24) scale(0.86 1)" font-size="5" text-anchor="middle" fill="#000" font-family="Liberation Sans, sans-serif">-0.16</text>
<text transform="translate(186.30 476.24) scale(0.86 1)" font-size="5" text-anchor="middle" fill="#000" font-family="Liberation Sans, sans-serif">0.05</text>
<text transform="translate(199.81 476.24) scale(0.86 1)" font-size="5" text-anchor="middle" fill="#000" font-family="Liberation Sans, sans-serif">-0.41</text>
<text transform="translate(213.33 476.24) scale(0.86 1)" font-size="5" text-anchor="middle" fill="#000" font-family="Liberation Sans, sans-serif">0.05</text>
<text transform="translate(226.84 476.24) scale(0.86 1)" font-size="5" text-anchor="middle" fill="#000" font-family="Liberation Sans, sans-serif">0.04</text>
<text transform="translate(64.66 490.01) scale(0.86 1)" font-size="5" text-anchor="middle" fill="#000" font-family="Liberation Sans, sans-serif">0.43</text>
<text transform="translate(78.17 490.01) scale(0.86 1)" font-size="5" text-anchor="middle" fill="#000" font-family="Liberation Sans, sans-serif">0.58</text>
<text transform="translate(91.69 490.01) scale(0.86 1)" font-size="5" text-anchor="middle" fill="#000" font-family="Liberation Sans, sans-serif">0.56</text>
<text transform="translate(105.20 490.01) scale(0.86 1)" font-size="5" text-anchor="middle" fill="#000" font-family="Liberation Sans, sans-serif">-0.03</text>
<rect x="111.96" y="482.08" width="13.52" height="13.77" fill="#fff"/>
<text transform="translate(132.23 490.01) scale(0.86 1)" font-size="5" text-anchor="middle" fill="#000" font-family="Liberation Sans, sans-serif">0.57</text>
<text transform="translate(145.75 490.01) scale(0.86 1)" font-size="5" text-anchor="middle" fill="#000" font-family="Liberation Sans, sans-serif">0.20</text>
<text transform="translate(159.27 490.01) scale(0.86 1)" font-size="5" text-anchor="middle" fill="#000" font-family="Liberation Sans, sans-serif">0.12</text>
<text transform="translate(172.78 490.01) scale(0.86 1)" font-size="5" text-anchor="middle" fill="#000" font-family="Liberation Sans, sans-serif">0.19</text>
<text transform="translate(186.30 490.01) scale(0.86 1)" font-size="5" text-anchor="middle" fill="#000" font-family="Liberation Sans, sans-serif">0.21</text>
<text transform="translate(199.81 490.01) scale(0.86 1)" font-size="5" text-anchor="middle" fill="#000" font-family="Liberation Sans, sans-serif">0.38</text>
<text transform="translate(213.33 490.01) scale(0.86 1)" font-size="5" text-anchor="middle" fill="#000" font-family="Liberation Sans, sans-serif">0.10</text>
<text transform="translate(226.84 490.01) scale(0.86 1)" font-size="5" text-anchor="middle" fill="#000" font-family="Liberation Sans, sans-serif">0.11</text>
<text transform="translate(64.66 503.78) scale(0.86 1)" font-size="5" text-anchor="middle" fill="#000" font-family="Liberation Sans, sans-serif">0.58</text>
<text transform="translate(78.17 503.78) scale(0.86 1)" font-size="5" text-anchor="middle" fill="#000" font-family="Liberation Sans, sans-serif">0.13</text>
<text transform="translate(91.69 503.78) scale(0.86 1)" font-size="5" text-anchor="middle" fill="#000" font-family="Liberation Sans, sans-serif">0.22</text>
<text transform="translate(105.20 503.78) scale(0.86 1)" font-size="5" text-anchor="middle" fill="#000" font-family="Liberation Sans, sans-serif">-0.05</text>
<text transform="translate(118.72 503.78) scale(0.86 1)" font-size="5" text-anchor="middle" fill="#000" font-family="Liberation Sans, sans-serif">0.57</text>
<rect x="125.48" y="495.85" width="13.52" height="13.77" fill="#fff"/>
<text transform="translate(145.75 503.78) scale(0.86 1)" font-size="5" text-anchor="middle" fill="#000" font-family="Liberation Sans, sans-serif">0.01</text>
<text transform="translate(159.27 503.78) scale(0.86 1)" font-size="5" text-anchor="middle" fill="#000" font-family="Liberation Sans, sans-serif">-0.05</text>
<text transform="translate(172.78 503.78) scale(0.86 1)" font-size="5" text-anchor="middle" fill="#000" font-family="Liberation Sans, sans-serif">0.22</text>
<text transform="translate(186.30 503.78) scale(0.86 1)" font-size="5" text-anchor="middle" fill="#000" font-family="Liberation Sans, sans-serif">0.29</text>
<text transform="translate(199.81 503.78) scale(0.86 1)" font-size="5" text-anchor="middle" fill="#000" font-family="Liberation Sans, sans-serif">0.05</text>
<text transform="translate(213.33 503.78) scale(0.86 1)" font-size="5" text-anchor="middle" fill="#000" font-family="Liberation Sans, sans-serif">0.28</text>
<text transform="translate(226.84 503.78) scale(0.86 1)" font-size="5" text-anchor="middle" fill="#000" font-family="Liberation Sans, sans-serif">0.33</text>
<text transform="translate(64.66 517.55) scale(0.86 1)" font-size="5" text-anchor="middle" fill="#000" font-family="Liberation Sans, sans-serif">0.20</text>
<text transform="translate(78.17 517.55) scale(0.86 1)" font-size="5" text-anchor="middle" fill="#000" font-family="Liberation Sans, sans-serif">0.12</text>
<text transform="translate(91.69 517.55) scale(0.86 1)" font-size="5" text-anchor="middle" fill="#000" font-family="Liberation Sans, sans-serif">0.48</text>
<text transform="translate(105.20 517.55) scale(0.86 1)" font-size="5" text-anchor="middle" fill="#000" font-family="Liberation Sans, sans-serif">-0.29</text>
<text transform="translate(118.72 517.55) scale(0.86 1)" font-size="5" text-anchor="middle" fill="#000" font-family="Liberation Sans, sans-serif">0.20</text>
<text transform="translate(132.23 517.55) scale(0.86 1)" font-size="5" text-anchor="middle" fill="#000" font-family="Liberation Sans, sans-serif">0.01</text>
<rect x="138.99" y="509.62" width="13.52" height="13.77" fill="#fff"/>
<text transform="translate(159.27 517.55) scale(0.86 1)" font-size="5" text-anchor="middle" fill="#000" font-family="Liberation Sans, sans-serif">-0.08</text>
<text transform="translate(172.78 517.55) scale(0.86 1)" font-size="5" text-anchor="middle" fill="#000" font-family="Liberation Sans, sans-serif">0.12</text>
<text transform="translate(186.30 517.55) scale(0.86 1)" font-size="5" text-anchor="middle" fill="#000" font-family="Liberation Sans, sans-serif">0.08</text>
<text transform="translate(199.81 517.55) scale(0.86 1)" font-size="5" text-anchor="middle" fill="#000" font-family="Liberation Sans, sans-serif">0.53</text>
<text transform="translate(213.33 517.55) scale(0.86 1)" font-size="5" text-anchor="middle" fill="#000" font-family="Liberation Sans, sans-serif">-0.08</text>
<text transform="translate(226.84 517.55) scale(0.86 1)" font-size="5" text-anchor="middle" fill="#000" font-family="Liberation Sans, sans-serif">-0.03</text>
<text transform="translate(64.66 531.32) scale(0.86 1)" font-size="5" text-anchor="middle" fill="#000" font-family="Liberation Sans, sans-serif">0.08</text>
<text transform="translate(78.17 531.32) scale(0.86 1)" font-size="5" text-anchor="middle" fill="#000" font-family="Liberation Sans, sans-serif">0.10</text>
<text transform="translate(91.69 531.32) scale(0.86 1)" font-size="5" text-anchor="middle" fill="#000" font-family="Liberation Sans, sans-serif">0.05</text>
<text transform="translate(105.20 531.32) scale(0.86 1)" font-size="5" text-anchor="middle" fill="#000" font-family="Liberation Sans, sans-serif">-0.06</text>
<text transform="translate(118.72 531.32) scale(0.86 1)" font-size="5" text-anchor="middle" fill="#000" font-family="Liberation Sans, sans-serif">0.12</text>
<text transform="translate(132.23 531.32) scale(0.86 1)" font-size="5" text-anchor="middle" fill="#000" font-family="Liberation Sans, sans-serif">-0.05</text>
<text transform="translate(145.75 531.32) scale(0.86 1)" font-size="5" text-anchor="middle" fill="#000" font-family="Liberation Sans, sans-serif">-0.08</text>
<rect x="152.51" y="523.38" width="13.52" height="13.77" fill="#fff"/>
<text transform="translate(172.78 531.32) scale(0.86 1)" font-size="5" text-anchor="middle" fill="#000" font-family="Liberation Sans, sans-serif">0.07</text>
<text transform="translate(186.30 531.32) scale(0.86 1)" font-size="5" text-anchor="middle" fill="#000" font-family="Liberation Sans, sans-serif">-0.11</text>
<text transform="translate(199.81 531.32) scale(0.86 1)" font-size="5" text-anchor="middle" fill="#000" font-family="Liberation Sans, sans-serif">0.10</text>
<text transform="translate(213.33 531.32) scale(0.86 1)" font-size="5" text-anchor="middle" fill="#000" font-family="Liberation Sans, sans-serif">-0.18</text>
<text transform="translate(226.84 531.32) scale(0.86 1)" font-size="5" text-anchor="middle" fill="#000" font-family="Liberation Sans, sans-serif">-0.19</text>
<text transform="translate(64.66 545.09) scale(0.86 1)" font-size="5" text-anchor="middle" fill="#000" font-family="Liberation Sans, sans-serif">0.15</text>
<text transform="translate(78.17 545.09) scale(0.86 1)" font-size="5" text-anchor="middle" fill="#000" font-family="Liberation Sans, sans-serif">0.13</text>
<text transform="translate(91.69 545.09) scale(0.86 1)" font-size="5" text-anchor="middle" fill="#000" font-family="Liberation Sans, sans-serif">-0.01</text>
<text transform="translate(105.20 545.09) scale(0.86 1)" font-size="5" text-anchor="middle" fill="#000" font-family="Liberation Sans, sans-serif">-0.16</text>
<text transform="translate(118.72 545.09) scale(0.86 1)" font-size="5" text-anchor="middle" fill="#000" font-family="Liberation Sans, sans-serif">0.19</text>
<text transform="translate(132.23 545.09) scale(0.86 1)" font-size="5" text-anchor="middle" fill="#000" font-family="Liberation Sans, sans-serif">0.22</text>
<text transform="translate(145.75 545.09) scale(0.86 1)" font-size="5" text-anchor="middle" fill="#000" font-family="Liberation Sans, sans-serif">0.12</text>
<text transform="translate(159.27 545.09) scale(0.86 1)" font-size="5" text-anchor="middle" fill="#000" font-family="Liberation Sans, sans-serif">0.07</text>
<rect x="166.02" y="537.15" width="13.52" height="13.77" fill="#fff"/>
<text transform="translate(186.30 545.09) scale(0.86 1)" font-size="5" text-anchor="middle" fill="#000" font-family="Liberation Sans, sans-serif">0.09</text>
<text transform="translate(199.81 545.09) scale(0.86 1)" font-size="5" text-anchor="middle" fill="#000" font-family="Liberation Sans, sans-serif">0.26</text>
<text transform="translate(213.33 545.09) scale(0.86 1)" font-size="5" text-anchor="middle" fill="#000" font-family="Liberation Sans, sans-serif">0.24</text>
<text transform="translate(226.84 545.09) scale(0.86 1)" font-size="5" text-anchor="middle" fill="#000" font-family="Liberation Sans, sans-serif">0.20</text>
<text transform="translate(64.66 558.86) scale(0.86 1)" font-size="5" text-anchor="middle" fill="#000" font-family="Liberation Sans, sans-serif">0.33</text>
<text transform="translate(78.17 558.86) scale(0.86 1)" font-size="5" text-anchor="middle" fill="#000" font-family="Liberation Sans, sans-serif">0.13</text>
<text transform="translate(91.69 558.86) scale(0.86 1)" font-size="5" text-anchor="middle" fill="#000" font-family="Liberation Sans, sans-serif">0.07</text>
<text transform="translate(105.20 558.86) scale(0.86 1)" font-size="5" text-anchor="middle" fill="#000" font-family="Liberation Sans, sans-serif">0.05</text>
<text transform="translate(118.72 558.86) scale(0.86 1)" font-size="5" text-anchor="middle" fill="#000" font-family="Liberation Sans, sans-serif">0.21</text>
<text transform="translate(132.23 558.86) scale(0.86 1)" font-size="5" text-anchor="middle" fill="#000" font-family="Liberation Sans, sans-serif">0.29</text>
<text transform="translate(145.75 558.86) scale(0.86 1)" font-size="5" text-anchor="middle" fill="#000" font-family="Liberation Sans, sans-serif">0.08</text>
<text transform="translate(159.27 558.86) scale(0.86 1)" font-size="5" text-anchor="middle" fill="#000" font-family="Liberation Sans, sans-serif">-0.11</text>
<text transform="translate(172.78 558.86) scale(0.86 1)" font-size="5" text-anchor="middle" fill="#000" font-family="Liberation Sans, sans-serif">0.09</text>
<rect x="179.54" y="550.92" width="13.52" height="13.77" fill="#fff"/>
<text transform="translate(199.81 558.86) scale(0.86 1)" font-size="5" text-anchor="middle" fill="#000" font-family="Liberation Sans, sans-serif">0.02</text>
<text transform="translate(213.33 558.86) scale(0.86 1)" font-size="5" text-anchor="middle" fill="#000" font-family="Liberation Sans, sans-serif">0.11</text>
<text transform="translate(226.84 558.86) scale(0.86 1)" font-size="5" text-anchor="middle" fill="#000" font-family="Liberation Sans, sans-serif">0.08</text>
<text transform="translate(64.66 572.63) scale(0.86 1)" font-size="5" text-anchor="middle" fill="#000" font-family="Liberation Sans, sans-serif">0.31</text>
<text transform="translate(78.17 572.63) scale(0.86 1)" font-size="5" text-anchor="middle" fill="#000" font-family="Liberation Sans, sans-serif">0.29</text>
<text transform="translate(91.69 572.63) scale(0.86 1)" font-size="5" text-anchor="middle" fill="#000" font-family="Liberation Sans, sans-serif">0.43</text>
<text transform="translate(105.20 572.63) scale(0.86 1)" font-size="5" text-anchor="middle" fill="#000" font-family="Liberation Sans, sans-serif">-0.41</text>
<text transform="translate(118.72 572.63) scale(0.86 1)" font-size="5" text-anchor="middle" fill="#000" font-family="Liberation Sans, sans-serif">0.38</text>
<text transform="translate(132.23 572.63) scale(0.86 1)" font-size="5" text-anchor="middle" fill="#000" font-family="Liberation Sans, sans-serif">0.05</text>
<text transform="translate(145.75 572.63) scale(0.86 1)" font-size="5" text-anchor="middle" fill="#000" font-family="Liberation Sans, sans-serif">0.53</text>
<text transform="translate(159.27 572.63) scale(0.86 1)" font-size="5" text-anchor="middle" fill="#000" font-family="Liberation Sans, sans-serif">0.10</text>
<text transform="translate(172.78 572.63) scale(0.86 1)" font-size="5" text-anchor="middle" fill="#000" font-family="Liberation Sans, sans-serif">0.26</text>
<text transform="translate(186.30 572.63) scale(0.86 1)" font-size="5" text-anchor="middle" fill="#000" font-family="Liberation Sans, sans-serif">0.02</text>
<rect x="193.05" y="564.69" width="13.52" height="13.77" fill="#fff"/>
<text transform="translate(213.33 572.63) scale(0.86 1)" font-size="5" text-anchor="middle" fill="#000" font-family="Liberation Sans, sans-serif">-0.21</text>
<text transform="translate(226.84 572.63) scale(0.86 1)" font-size="5" text-anchor="middle" fill="#000" font-family="Liberation Sans, sans-serif">-0.12</text>
<text transform="translate(64.66 586.40) scale(0.86 1)" font-size="5" text-anchor="middle" fill="#000" font-family="Liberation Sans, sans-serif">0.16</text>
<text transform="translate(78.17 586.40) scale(0.86 1)" font-size="5" text-anchor="middle" fill="#000" font-family="Liberation Sans, sans-serif">0.02</text>
<text transform="translate(91.69 586.40) scale(0.86 1)" font-size="5" text-anchor="middle" fill="#000" font-family="Liberation Sans, sans-serif">-0.09</text>
<text transform="translate(105.20 586.40) scale(0.86 1)" font-size="5" text-anchor="middle" fill="#000" font-family="Liberation Sans, sans-serif">0.05</text>
<text transform="translate(118.72 586.40) scale(0.86 1)" font-size="5" text-anchor="middle" fill="#000" font-family="Liberation Sans, sans-serif">0.10</text>
<text transform="translate(132.23 586.40) scale(0.86 1)" font-size="5" text-anchor="middle" fill="#000" font-family="Liberation Sans, sans-serif">0.28</text>
<text transform="translate(145.75 586.40) scale(0.86 1)" font-size="5" text-anchor="middle" fill="#000" font-family="Liberation Sans, sans-serif">-0.08</text>
<text transform="translate(159.27 586.40) scale(0.86 1)" font-size="5" text-anchor="middle" fill="#000" font-family="Liberation Sans, sans-serif">-0.18</text>
<text transform="translate(172.78 586.40) scale(0.86 1)" font-size="5" text-anchor="middle" fill="#000" font-family="Liberation Sans, sans-serif">0.24</text>
<text transform="translate(186.30 586.40) scale(0.86 1)" font-size="5" text-anchor="middle" fill="#000" font-family="Liberation Sans, sans-serif">0.11</text>
<text transform="translate(199.81 586.40) scale(0.86 1)" font-size="5" text-anchor="middle" fill="#000" font-family="Liberation Sans, sans-serif">-0.21</text>
<rect x="206.57" y="578.46" width="13.52" height="13.77" fill="#fff"/>
<rect x="220.08" y="578.46" width="13.52" height="13.77" fill="#f2444d"/>
<text transform="translate(226.84 586.40) scale(0.86 1)" font-size="5" text-anchor="middle" fill="#000" font-family="Liberation Sans, sans-serif">0.93</text>
<text transform="translate(64.66 600.17) scale(0.86 1)" font-size="5" text-anchor="middle" fill="#000" font-family="Liberation Sans, sans-serif">0.21</text>
<text transform="translate(78.17 600.17) scale(0.86 1)" font-size="5" text-anchor="middle" fill="#000" font-family="Liberation Sans, sans-serif">0.00</text>
<text transform="translate(91.69 600.17) scale(0.86 1)" font-size="5" text-anchor="middle" fill="#000" font-family="Liberation Sans, sans-serif">-0.07</text>
<text transform="translate(105.20 600.17) scale(0.86 1)" font-size="5" text-anchor="middle" fill="#000" font-family="Liberation Sans, sans-serif">0.04</text>
<text transform="translate(118.72 600.17) scale(0.86 1)" font-size="5" text-anchor="middle" fill="#000" font-family="Liberation Sans, sans-serif">0.11</text>
<text transform="translate(132.23 600.17) scale(0.86 1)" font-size="5" text-anchor="middle" fill="#000" font-family="Liberation Sans, sans-serif">0.33</text>
<text transform="translate(145.75 600.17) scale(0.86 1)" font-size="5" text-anchor="middle" fill="#000" font-family="Liberation Sans, sans-serif">-0.03</text>
<text transform="translate(159.27 600.17) scale(0.86 1)" font-size="5" text-anchor="middle" fill="#000" font-family="Liberation Sans, sans-serif">-0.19</text>
<text transform="translate(172.78 600.17) scale(0.86 1)" font-size="5" text-anchor="middle" fill="#000" font-family="Liberation Sans, sans-serif">0.20</text>
<text transform="translate(186.30 600.17) scale(0.86 1)" font-size="5" text-anchor="middle" fill="#000" font-family="Liberation Sans, sans-serif">0.08</text>
<text transform="translate(199.81 600.17) scale(0.86 1)" font-size="5" text-anchor="middle" fill="#000" font-family="Liberation Sans, sans-serif">-0.12</text>
<rect x="206.57" y="592.23" width="13.52" height="13.77" fill="#f2444d"/>
<text transform="translate(213.33 600.17) scale(0.86 1)" font-size="5" text-anchor="middle" fill="#000" font-family="Liberation Sans, sans-serif">0.93</text>
<rect x="220.08" y="592.23" width="13.52" height="13.77" fill="#fff"/>
<rect x="57.90" y="427.00" width="175.70" height="179.00" fill="none" stroke="#555" stroke-width="1.25"/>
<text x="54.10" y="435.18" font-size="5.3" font-weight="bold" fill="#000"  text-anchor="end" font-family="Liberation Sans, sans-serif">carmustine</text>
<text transform="translate(65.16 423.40) rotate(-90)" font-size="5.3" font-weight="bold" fill="#000"  font-family="Liberation Sans, sans-serif">carmustine</text>
<text x="54.10" y="448.95" font-size="5.5" font-weight="normal" fill="#161616"  text-anchor="end" font-family="Liberation Sans, sans-serif">cisplatin</text>
<text transform="translate(78.67 423.40) rotate(-90)" font-size="5.5" font-weight="normal" fill="#161616"  font-family="Liberation Sans, sans-serif">cisplatin</text>
<text x="54.10" y="462.72" font-size="5.5" font-weight="normal" fill="#161616"  text-anchor="end" font-family="Liberation Sans, sans-serif">doxorubicin</text>
<text transform="translate(92.19 423.40) rotate(-90)" font-size="5.5" font-weight="normal" fill="#161616"  font-family="Liberation Sans, sans-serif">doxorubicin</text>
<text x="54.10" y="476.49" font-size="5.5" font-weight="normal" fill="#161616"  text-anchor="end" font-family="Liberation Sans, sans-serif">erlotinib</text>
<text transform="translate(105.70 423.40) rotate(-90)" font-size="5.5" font-weight="normal" fill="#161616"  font-family="Liberation Sans, sans-serif">erlotinib</text>
<text x="54.10" y="490.26" font-size="5.5" font-weight="normal" fill="#161616"  text-anchor="end" font-family="Liberation Sans, sans-serif">irinotecan</text>
<text transform="translate(119.22 423.40) rotate(-90)" font-size="5.5" font-weight="normal" fill="#161616"  font-family="Liberation Sans, sans-serif">irinotecan</text>
<text x="54.10" y="504.03" font-size="5.3" font-weight="bold" fill="#000"  text-anchor="end" font-family="Liberation Sans, sans-serif">lomustine</text>
<text transform="translate(132.73 423.40) rotate(-90)" font-size="5.3" font-weight="bold" fill="#000"  font-family="Liberation Sans, sans-serif">lomustine</text>
<text x="54.10" y="517.80" font-size="5.5" font-weight="normal" fill="#161616"  text-anchor="end" font-family="Liberation Sans, sans-serif">paclitaxel</text>
<text transform="translate(146.25 423.40) rotate(-90)" font-size="5.5" font-weight="normal" fill="#161616"  font-family="Liberation Sans, sans-serif">paclitaxel</text>
<text x="54.10" y="531.57" font-size="5.5" font-weight="normal" fill="#161616"  text-anchor="end" font-family="Liberation Sans, sans-serif">procarbazine</text>
<text transform="translate(159.77 423.40) rotate(-90)" font-size="5.5" font-weight="normal" fill="#161616"  font-family="Liberation Sans, sans-serif">procarbazine</text>
<text x="54.10" y="545.34" font-size="5.5" font-weight="normal" fill="#161616"  text-anchor="end" font-family="Liberation Sans, sans-serif">sunitinib</text>
<text transform="translate(173.28 423.40) rotate(-90)" font-size="5.5" font-weight="normal" fill="#161616"  font-family="Liberation Sans, sans-serif">sunitinib</text>
<text x="54.10" y="559.11" font-size="5.3" font-weight="bold" fill="#000"  text-anchor="end" font-family="Liberation Sans, sans-serif">temozolomide</text>
<text transform="translate(186.80 423.40) rotate(-90)" font-size="5.3" font-weight="bold" fill="#000"  font-family="Liberation Sans, sans-serif">temozolomide</text>
<text x="54.10" y="572.88" font-size="5.5" font-weight="normal" fill="#161616"  text-anchor="end" font-family="Liberation Sans, sans-serif">vincristine</text>
<text transform="translate(200.31 423.40) rotate(-90)" font-size="5.5" font-weight="normal" fill="#161616"  font-family="Liberation Sans, sans-serif">vincristine</text>
<text x="38.00" y="586.65" font-size="5.7" font-weight="normal" fill="#161616"  text-anchor="middle" font-family="Liberation Sans, sans-serif">ZOT<tspan font-size="3.8" dy="1.0">5</tspan><tspan dy="-1.0">-1-Me</tspan></text>
<text transform="translate(213.83 423.40) rotate(-90)" font-size="5.2" font-weight="normal" fill="#161616"  font-family="Liberation Sans, sans-serif">ZOT<tspan font-size="3.8" dy="1.0">5</tspan><tspan dy="-1.0">-1-Me</tspan></text>
<text x="38.00" y="600.42" font-size="5.7" font-weight="normal" fill="#161616"  text-anchor="middle" font-family="Liberation Sans, sans-serif">ZOT<tspan font-size="3.8" dy="1.0">5</tspan><tspan dy="-1.0">-1-Et</tspan></text>
<text transform="translate(227.34 423.40) rotate(-90)" font-size="5.2" font-weight="normal" fill="#161616"  font-family="Liberation Sans, sans-serif">ZOT<tspan font-size="3.8" dy="1.0">5</tspan><tspan dy="-1.0">-1-Et</tspan></text>
<text x="371.4" y="379.3" font-size="8.8" font-weight="bold" text-anchor="middle" font-family="Liberation Sans, sans-serif">TGI</text>
<rect x="282.50" y="426.30" width="176.00" height="179.30" fill="#bfbfbf"/>
<rect x="282.50" y="426.30" width="13.54" height="13.79" fill="#fff"/>
<text transform="translate(302.81 434.25) scale(0.86 1)" font-size="5" text-anchor="middle" fill="#000" font-family="Liberation Sans, sans-serif">0.05</text>
<text transform="translate(316.35 434.25) scale(0.86 1)" font-size="5" text-anchor="middle" fill="#000" font-family="Liberation Sans, sans-serif">0.04</text>
<text transform="translate(329.88 434.25) scale(0.86 1)" font-size="5" text-anchor="middle" fill="#000" font-family="Liberation Sans, sans-serif">-0.25</text>
<text transform="translate(343.42 434.25) scale(0.86 1)" font-size="5" text-anchor="middle" fill="#000" font-family="Liberation Sans, sans-serif">0.19</text>
<text transform="translate(356.96 434.25) scale(0.86 1)" font-size="5" text-anchor="middle" fill="#000" font-family="Liberation Sans, sans-serif">0.52</text>
<text transform="translate(370.50 434.25) scale(0.86 1)" font-size="5" text-anchor="middle" fill="#000" font-family="Liberation Sans, sans-serif">0.24</text>
<text transform="translate(384.04 434.25) scale(0.86 1)" font-size="5" text-anchor="middle" fill="#000" font-family="Liberation Sans, sans-serif">0.08</text>
<text transform="translate(397.58 434.25) scale(0.86 1)" font-size="5" text-anchor="middle" fill="#000" font-family="Liberation Sans, sans-serif">0.33</text>
<rect x="404.35" y="426.30" width="13.54" height="13.79" fill="#fff"/>
<rect x="404.35" y="426.30" width="13.54" height="13.79" fill="none" stroke="#e4e4e4" stroke-width="0.5"/>
<text transform="translate(424.65 434.25) scale(0.86 1)" font-size="5" text-anchor="middle" fill="#000" font-family="Liberation Sans, sans-serif">0.23</text>
<text transform="translate(438.19 434.25) scale(0.86 1)" font-size="5" text-anchor="middle" fill="#000" font-family="Liberation Sans, sans-serif">0.24</text>
<text transform="translate(451.73 434.25) scale(0.86 1)" font-size="5" text-anchor="middle" fill="#000" font-family="Liberation Sans, sans-serif">0.27</text>
<text transform="translate(289.27 448.04) scale(0.86 1)" font-size="5" text-anchor="middle" fill="#000" font-family="Liberation Sans, sans-serif">0.05</text>
<rect x="296.04" y="440.09" width="13.54" height="13.79" fill="#fff"/>
<text transform="translate(316.35 448.04) scale(0.86 1)" font-size="5" text-anchor="middle" fill="#000" font-family="Liberation Sans, sans-serif">0.28</text>
<text transform="translate(329.88 448.04) scale(0.86 1)" font-size="5" text-anchor="middle" fill="#000" font-family="Liberation Sans, sans-serif">0.51</text>
<text transform="translate(343.42 448.04) scale(0.86 1)" font-size="5" text-anchor="middle" fill="#000" font-family="Liberation Sans, sans-serif">0.47</text>
<text transform="translate(356.96 448.04) scale(0.86 1)" font-size="5" text-anchor="middle" fill="#000" font-family="Liberation Sans, sans-serif">0.18</text>
<text transform="translate(370.50 448.04) scale(0.86 1)" font-size="5" text-anchor="middle" fill="#000" font-family="Liberation Sans, sans-serif">0.19</text>
<text transform="translate(384.04 448.04) scale(0.86 1)" font-size="5" text-anchor="middle" fill="#000" font-family="Liberation Sans, sans-serif">0.16</text>
<text transform="translate(397.58 448.04) scale(0.86 1)" font-size="5" text-anchor="middle" fill="#000" font-family="Liberation Sans, sans-serif">0.27</text>
<rect x="404.35" y="440.09" width="13.54" height="13.79" fill="#fff"/>
<rect x="404.35" y="440.09" width="13.54" height="13.79" fill="none" stroke="#e4e4e4" stroke-width="0.5"/>
<text transform="translate(424.65 448.04) scale(0.86 1)" font-size="5" text-anchor="middle" fill="#000" font-family="Liberation Sans, sans-serif">0.25</text>
<text transform="translate(438.19 448.04) scale(0.86 1)" font-size="5" text-anchor="middle" fill="#000" font-family="Liberation Sans, sans-serif">0.08</text>
<text transform="translate(451.73 448.04) scale(0.86 1)" font-size="5" text-anchor="middle" fill="#000" font-family="Liberation Sans, sans-serif">0.14</text>
<text transform="translate(289.27 461.83) scale(0.86 1)" font-size="5" text-anchor="middle" fill="#000" font-family="Liberation Sans, sans-serif">0.04</text>
<text transform="translate(302.81 461.83) scale(0.86 1)" font-size="5" text-anchor="middle" fill="#000" font-family="Liberation Sans, sans-serif">0.28</text>
<rect x="309.58" y="453.88" width="13.54" height="13.79" fill="#fff"/>
<text transform="translate(329.88 461.83) scale(0.86 1)" font-size="5" text-anchor="middle" fill="#000" font-family="Liberation Sans, sans-serif">0.01</text>
<text transform="translate(343.42 461.83) scale(0.86 1)" font-size="5" text-anchor="middle" fill="#000" font-family="Liberation Sans, sans-serif">0.23</text>
<text transform="translate(356.96 461.83) scale(0.86 1)" font-size="5" text-anchor="middle" fill="#000" font-family="Liberation Sans, sans-serif">-0.01</text>
<text transform="translate(370.50 461.83) scale(0.86 1)" font-size="5" text-anchor="middle" fill="#000" font-family="Liberation Sans, sans-serif">0.31</text>
<text transform="translate(384.04 461.83) scale(0.86 1)" font-size="5" text-anchor="middle" fill="#000" font-family="Liberation Sans, sans-serif">-0.04</text>
<text transform="translate(397.58 461.83) scale(0.86 1)" font-size="5" text-anchor="middle" fill="#000" font-family="Liberation Sans, sans-serif">0.18</text>
<rect x="404.35" y="453.88" width="13.54" height="13.79" fill="#fff"/>
<rect x="404.35" y="453.88" width="13.54" height="13.79" fill="none" stroke="#e4e4e4" stroke-width="0.5"/>
<text transform="translate(424.65 461.83) scale(0.86 1)" font-size="5" text-anchor="middle" fill="#000" font-family="Liberation Sans, sans-serif">0.22</text>
<text transform="translate(438.19 461.83) scale(0.86 1)" font-size="5" text-anchor="middle" fill="#000" font-family="Liberation Sans, sans-serif">-0.01</text>
<text transform="translate(451.73 461.83) scale(0.86 1)" font-size="5" text-anchor="middle" fill="#000" font-family="Liberation Sans, sans-serif">0.01</text>
<text transform="translate(289.27 475.62) scale(0.86 1)" font-size="5" text-anchor="middle" fill="#000" font-family="Liberation Sans, sans-serif">-0.25</text>
<text transform="translate(302.81 475.62) scale(0.86 1)" font-size="5" text-anchor="middle" fill="#000" font-family="Liberation Sans, sans-serif">0.51</text>
<text transform="translate(316.35 475.62) scale(0.86 1)" font-size="5" text-anchor="middle" fill="#000" font-family="Liberation Sans, sans-serif">0.01</text>
<rect x="323.12" y="467.68" width="13.54" height="13.79" fill="#fff"/>
<text transform="translate(343.42 475.62) scale(0.86 1)" font-size="5" text-anchor="middle" fill="#000" font-family="Liberation Sans, sans-serif">0.16</text>
<text transform="translate(356.96 475.62) scale(0.86 1)" font-size="5" text-anchor="middle" fill="#000" font-family="Liberation Sans, sans-serif">-0.05</text>
<text transform="translate(370.50 475.62) scale(0.86 1)" font-size="5" text-anchor="middle" fill="#000" font-family="Liberation Sans, sans-serif">-0.01</text>
<text transform="translate(384.04 475.62) scale(0.86 1)" font-size="5" text-anchor="middle" fill="#000" font-family="Liberation Sans, sans-serif">0.24</text>
<text transform="translate(397.58 475.62) scale(0.86 1)" font-size="5" text-anchor="middle" fill="#000" font-family="Liberation Sans, sans-serif">-0.04</text>
<rect x="404.35" y="467.68" width="13.54" height="13.79" fill="#fff"/>
<rect x="404.35" y="467.68" width="13.54" height="13.79" fill="none" stroke="#e4e4e4" stroke-width="0.5"/>
<text transform="translate(424.65 475.62) scale(0.86 1)" font-size="5" text-anchor="middle" fill="#000" font-family="Liberation Sans, sans-serif">-0.13</text>
<text transform="translate(438.19 475.62) scale(0.86 1)" font-size="5" text-anchor="middle" fill="#000" font-family="Liberation Sans, sans-serif">0.04</text>
<text transform="translate(451.73 475.62) scale(0.86 1)" font-size="5" text-anchor="middle" fill="#000" font-family="Liberation Sans, sans-serif">0.06</text>
<text transform="translate(289.27 489.42) scale(0.86 1)" font-size="5" text-anchor="middle" fill="#000" font-family="Liberation Sans, sans-serif">0.19</text>
<text transform="translate(302.81 489.42) scale(0.86 1)" font-size="5" text-anchor="middle" fill="#000" font-family="Liberation Sans, sans-serif">0.47</text>
<text transform="translate(316.35 489.42) scale(0.86 1)" font-size="5" text-anchor="middle" fill="#000" font-family="Liberation Sans, sans-serif">0.23</text>
<text transform="translate(329.88 489.42) scale(0.86 1)" font-size="5" text-anchor="middle" fill="#000" font-family="Liberation Sans, sans-serif">0.16</text>
<rect x="336.65" y="481.47" width="13.54" height="13.79" fill="#fff"/>
<text transform="translate(356.96 489.42) scale(0.86 1)" font-size="5" text-anchor="middle" fill="#000" font-family="Liberation Sans, sans-serif">0.52</text>
<text transform="translate(370.50 489.42) scale(0.86 1)" font-size="5" text-anchor="middle" fill="#000" font-family="Liberation Sans, sans-serif">0.04</text>
<text transform="translate(384.04 489.42) scale(0.86 1)" font-size="5" text-anchor="middle" fill="#000" font-family="Liberation Sans, sans-serif">0.19</text>
<text transform="translate(397.58 489.42) scale(0.86 1)" font-size="5" text-anchor="middle" fill="#000" font-family="Liberation Sans, sans-serif">0.41</text>
<rect x="404.35" y="481.47" width="13.54" height="13.79" fill="#fff"/>
<rect x="404.35" y="481.47" width="13.54" height="13.79" fill="none" stroke="#e4e4e4" stroke-width="0.5"/>
<text transform="translate(424.65 489.42) scale(0.86 1)" font-size="5" text-anchor="middle" fill="#000" font-family="Liberation Sans, sans-serif">0.29</text>
<text transform="translate(438.19 489.42) scale(0.86 1)" font-size="5" text-anchor="middle" fill="#000" font-family="Liberation Sans, sans-serif">0.18</text>
<text transform="translate(451.73 489.42) scale(0.86 1)" font-size="5" text-anchor="middle" fill="#000" font-family="Liberation Sans, sans-serif">0.20</text>
<text transform="translate(289.27 503.21) scale(0.86 1)" font-size="5" text-anchor="middle" fill="#000" font-family="Liberation Sans, sans-serif">0.52</text>
<text transform="translate(302.81 503.21) scale(0.86 1)" font-size="5" text-anchor="middle" fill="#000" font-family="Liberation Sans, sans-serif">0.18</text>
<text transform="translate(316.35 503.21) scale(0.86 1)" font-size="5" text-anchor="middle" fill="#000" font-family="Liberation Sans, sans-serif">-0.01</text>
<text transform="translate(329.88 503.21) scale(0.86 1)" font-size="5" text-anchor="middle" fill="#000" font-family="Liberation Sans, sans-serif">-0.05</text>
<text transform="translate(343.42 503.21) scale(0.86 1)" font-size="5" text-anchor="middle" fill="#000" font-family="Liberation Sans, sans-serif">0.52</text>
<rect x="350.19" y="495.26" width="13.54" height="13.79" fill="#fff"/>
<text transform="translate(370.50 503.21) scale(0.86 1)" font-size="5" text-anchor="middle" fill="#000" font-family="Liberation Sans, sans-serif">0.18</text>
<text transform="translate(384.04 503.21) scale(0.86 1)" font-size="5" text-anchor="middle" fill="#000" font-family="Liberation Sans, sans-serif">0.06</text>
<text transform="translate(397.58 503.21) scale(0.86 1)" font-size="5" text-anchor="middle" fill="#000" font-family="Liberation Sans, sans-serif">0.44</text>
<rect x="404.35" y="495.26" width="13.54" height="13.79" fill="#fff"/>
<rect x="404.35" y="495.26" width="13.54" height="13.79" fill="none" stroke="#e4e4e4" stroke-width="0.5"/>
<text transform="translate(424.65 503.21) scale(0.86 1)" font-size="5" text-anchor="middle" fill="#000" font-family="Liberation Sans, sans-serif">0.02</text>
<text transform="translate(438.19 503.21) scale(0.86 1)" font-size="5" text-anchor="middle" fill="#000" font-family="Liberation Sans, sans-serif">0.41</text>
<text transform="translate(451.73 503.21) scale(0.86 1)" font-size="5" text-anchor="middle" fill="#000" font-family="Liberation Sans, sans-serif">0.47</text>
<text transform="translate(289.27 517.00) scale(0.86 1)" font-size="5" text-anchor="middle" fill="#000" font-family="Liberation Sans, sans-serif">0.24</text>
<text transform="translate(302.81 517.00) scale(0.86 1)" font-size="5" text-anchor="middle" fill="#000" font-family="Liberation Sans, sans-serif">0.19</text>
<text transform="translate(316.35 517.00) scale(0.86 1)" font-size="5" text-anchor="middle" fill="#000" font-family="Liberation Sans, sans-serif">0.31</text>
<text transform="translate(329.88 517.00) scale(0.86 1)" font-size="5" text-anchor="middle" fill="#000" font-family="Liberation Sans, sans-serif">-0.01</text>
<text transform="translate(343.42 517.00) scale(0.86 1)" font-size="5" text-anchor="middle" fill="#000" font-family="Liberation Sans, sans-serif">0.04</text>
<text transform="translate(356.96 517.00) scale(0.86 1)" font-size="5" text-anchor="middle" fill="#000" font-family="Liberation Sans, sans-serif">0.18</text>
<rect x="363.73" y="509.05" width="13.54" height="13.79" fill="#fff"/>
<text transform="translate(384.04 517.00) scale(0.86 1)" font-size="5" text-anchor="middle" fill="#000" font-family="Liberation Sans, sans-serif">-0.12</text>
<text transform="translate(397.58 517.00) scale(0.86 1)" font-size="5" text-anchor="middle" fill="#000" font-family="Liberation Sans, sans-serif">0.18</text>
<rect x="404.35" y="509.05" width="13.54" height="13.79" fill="#fff"/>
<rect x="404.35" y="509.05" width="13.54" height="13.79" fill="none" stroke="#e4e4e4" stroke-width="0.5"/>
<text transform="translate(424.65 517.00) scale(0.86 1)" font-size="5" text-anchor="middle" fill="#000" font-family="Liberation Sans, sans-serif">0.56</text>
<text transform="translate(438.19 517.00) scale(0.86 1)" font-size="5" text-anchor="middle" fill="#000" font-family="Liberation Sans, sans-serif">0.07</text>
<text transform="translate(451.73 517.00) scale(0.86 1)" font-size="5" text-anchor="middle" fill="#000" font-family="Liberation Sans, sans-serif">0.16</text>
<text transform="translate(289.27 530.79) scale(0.86 1)" font-size="5" text-anchor="middle" fill="#000" font-family="Liberation Sans, sans-serif">0.08</text>
<text transform="translate(302.81 530.79) scale(0.86 1)" font-size="5" text-anchor="middle" fill="#000" font-family="Liberation Sans, sans-serif">0.16</text>
<text transform="translate(316.35 530.79) scale(0.86 1)" font-size="5" text-anchor="middle" fill="#000" font-family="Liberation Sans, sans-serif">-0.04</text>
<text transform="translate(329.88 530.79) scale(0.86 1)" font-size="5" text-anchor="middle" fill="#000" font-family="Liberation Sans, sans-serif">0.24</text>
<text transform="translate(343.42 530.79) scale(0.86 1)" font-size="5" text-anchor="middle" fill="#000" font-family="Liberation Sans, sans-serif">0.19</text>
<text transform="translate(356.96 530.79) scale(0.86 1)" font-size="5" text-anchor="middle" fill="#000" font-family="Liberation Sans, sans-serif">0.06</text>
<text transform="translate(370.50 530.79) scale(0.86 1)" font-size="5" text-anchor="middle" fill="#000" font-family="Liberation Sans, sans-serif">-0.12</text>
<rect x="377.27" y="522.85" width="13.54" height="13.79" fill="#fff"/>
<text transform="translate(397.58 530.79) scale(0.86 1)" font-size="5" text-anchor="middle" fill="#000" font-family="Liberation Sans, sans-serif">0.04</text>
<rect x="404.35" y="522.85" width="13.54" height="13.79" fill="#fff"/>
<rect x="404.35" y="522.85" width="13.54" height="13.79" fill="none" stroke="#e4e4e4" stroke-width="0.5"/>
<text transform="translate(424.65 530.79) scale(0.86 1)" font-size="5" text-anchor="middle" fill="#000" font-family="Liberation Sans, sans-serif">-0.04</text>
<text transform="translate(438.19 530.79) scale(0.86 1)" font-size="5" text-anchor="middle" fill="#000" font-family="Liberation Sans, sans-serif">-0.12</text>
<text transform="translate(451.73 530.79) scale(0.86 1)" font-size="5" text-anchor="middle" fill="#000" font-family="Liberation Sans, sans-serif">-0.03</text>
<text transform="translate(289.27 544.58) scale(0.86 1)" font-size="5" text-anchor="middle" fill="#000" font-family="Liberation Sans, sans-serif">0.33</text>
<text transform="translate(302.81 544.58) scale(0.86 1)" font-size="5" text-anchor="middle" fill="#000" font-family="Liberation Sans, sans-serif">0.27</text>
<text transform="translate(316.35 544.58) scale(0.86 1)" font-size="5" text-anchor="middle" fill="#000" font-family="Liberation Sans, sans-serif">0.18</text>
<text transform="translate(329.88 544.58) scale(0.86 1)" font-size="5" text-anchor="middle" fill="#000" font-family="Liberation Sans, sans-serif">-0.04</text>
<text transform="translate(343.42 544.58) scale(0.86 1)" font-size="5" text-anchor="middle" fill="#000" font-family="Liberation Sans, sans-serif">0.41</text>
<text transform="translate(356.96 544.58) scale(0.86 1)" font-size="5" text-anchor="middle" fill="#000" font-family="Liberation Sans, sans-serif">0.44</text>
<text transform="translate(370.50 544.58) scale(0.86 1)" font-size="5" text-anchor="middle" fill="#000" font-family="Liberation Sans, sans-serif">0.18</text>
<text transform="translate(384.04 544.58) scale(0.86 1)" font-size="5" text-anchor="middle" fill="#000" font-family="Liberation Sans, sans-serif">0.04</text>
<rect x="390.81" y="536.64" width="13.54" height="13.79" fill="#fff"/>
<rect x="404.35" y="536.64" width="13.54" height="13.79" fill="#fff"/>
<rect x="404.35" y="536.64" width="13.54" height="13.79" fill="none" stroke="#e4e4e4" stroke-width="0.5"/>
<text transform="translate(424.65 544.58) scale(0.86 1)" font-size="5" text-anchor="middle" fill="#000" font-family="Liberation Sans, sans-serif">0.32</text>
<text transform="translate(438.19 544.58) scale(0.86 1)" font-size="5" text-anchor="middle" fill="#000" font-family="Liberation Sans, sans-serif">0.60</text>
<text transform="translate(451.73 544.58) scale(0.86 1)" font-size="5" text-anchor="middle" fill="#000" font-family="Liberation Sans, sans-serif">0.59</text>
<rect x="282.50" y="550.43" width="13.54" height="13.79" fill="#fff"/>
<rect x="282.50" y="550.43" width="13.54" height="13.79" fill="none" stroke="#e4e4e4" stroke-width="0.5"/>
<rect x="296.04" y="550.43" width="13.54" height="13.79" fill="#fff"/>
<rect x="296.04" y="550.43" width="13.54" height="13.79" fill="none" stroke="#e4e4e4" stroke-width="0.5"/>
<rect x="309.58" y="550.43" width="13.54" height="13.79" fill="#fff"/>
<rect x="309.58" y="550.43" width="13.54" height="13.79" fill="none" stroke="#e4e4e4" stroke-width="0.5"/>
<rect x="323.12" y="550.43" width="13.54" height="13.79" fill="#fff"/>
<rect x="323.12" y="550.43" width="13.54" height="13.79" fill="none" stroke="#e4e4e4" stroke-width="0.5"/>
<rect x="336.65" y="550.43" width="13.54" height="13.79" fill="#fff"/>
<rect x="336.65" y="550.43" width="13.54" height="13.79" fill="none" stroke="#e4e4e4" stroke-width="0.5"/>
<rect x="350.19" y="550.43" width="13.54" height="13.79" fill="#fff"/>
<rect x="350.19" y="550.43" width="13.54" height="13.79" fill="none" stroke="#e4e4e4" stroke-width="0.5"/>
<rect x="363.73" y="550.43" width="13.54" height="13.79" fill="#fff"/>
<rect x="363.73" y="550.43" width="13.54" height="13.79" fill="none" stroke="#e4e4e4" stroke-width="0.5"/>
<rect x="377.27" y="550.43" width="13.54" height="13.79" fill="#fff"/>
<rect x="377.27" y="550.43" width="13.54" height="13.79" fill="none" stroke="#e4e4e4" stroke-width="0.5"/>
<rect x="390.81" y="550.43" width="13.54" height="13.79" fill="#fff"/>
<rect x="390.81" y="550.43" width="13.54" height="13.79" fill="none" stroke="#e4e4e4" stroke-width="0.5"/>
<rect x="404.35" y="550.43" width="13.54" height="13.79" fill="#fff"/>
<rect x="404.35" y="550.43" width="13.54" height="13.79" fill="none" stroke="#e4e4e4" stroke-width="0.5"/>
<rect x="417.88" y="550.43" width="13.54" height="13.79" fill="#fff"/>
<rect x="417.88" y="550.43" width="13.54" height="13.79" fill="none" stroke="#e4e4e4" stroke-width="0.5"/>
<rect x="431.42" y="550.43" width="13.54" height="13.79" fill="#fff"/>
<rect x="431.42" y="550.43" width="13.54" height="13.79" fill="none" stroke="#e4e4e4" stroke-width="0.5"/>
<rect x="444.96" y="550.43" width="13.54" height="13.79" fill="#fff"/>
<rect x="444.96" y="550.43" width="13.54" height="13.79" fill="none" stroke="#e4e4e4" stroke-width="0.5"/>
<text transform="translate(289.27 572.17) scale(0.86 1)" font-size="5" text-anchor="middle" fill="#000" font-family="Liberation Sans, sans-serif">0.23</text>
<text transform="translate(302.81 572.17) scale(0.86 1)" font-size="5" text-anchor="middle" fill="#000" font-family="Liberation Sans, sans-serif">0.25</text>
<text transform="translate(316.35 572.17) scale(0.86 1)" font-size="5" text-anchor="middle" fill="#000" font-family="Liberation Sans, sans-serif">0.22</text>
<text transform="translate(329.88 572.17) scale(0.86 1)" font-size="5" text-anchor="middle" fill="#000" font-family="Liberation Sans, sans-serif">-0.13</text>
<text transform="translate(343.42 572.17) scale(0.86 1)" font-size="5" text-anchor="middle" fill="#000" font-family="Liberation Sans, sans-serif">0.29</text>
<text transform="translate(356.96 572.17) scale(0.86 1)" font-size="5" text-anchor="middle" fill="#000" font-family="Liberation Sans, sans-serif">0.02</text>
<text transform="translate(370.50 572.17) scale(0.86 1)" font-size="5" text-anchor="middle" fill="#000" font-family="Liberation Sans, sans-serif">0.56</text>
<text transform="translate(384.04 572.17) scale(0.86 1)" font-size="5" text-anchor="middle" fill="#000" font-family="Liberation Sans, sans-serif">-0.04</text>
<text transform="translate(397.58 572.17) scale(0.86 1)" font-size="5" text-anchor="middle" fill="#000" font-family="Liberation Sans, sans-serif">0.32</text>
<rect x="404.35" y="564.22" width="13.54" height="13.79" fill="#fff"/>
<rect x="404.35" y="564.22" width="13.54" height="13.79" fill="none" stroke="#e4e4e4" stroke-width="0.5"/>
<rect x="417.88" y="564.22" width="13.54" height="13.79" fill="#fff"/>
<text transform="translate(438.19 572.17) scale(0.86 1)" font-size="5" text-anchor="middle" fill="#000" font-family="Liberation Sans, sans-serif">0.01</text>
<text transform="translate(451.73 572.17) scale(0.86 1)" font-size="5" text-anchor="middle" fill="#000" font-family="Liberation Sans, sans-serif">0.11</text>
<text transform="translate(289.27 585.96) scale(0.86 1)" font-size="5" text-anchor="middle" fill="#000" font-family="Liberation Sans, sans-serif">0.24</text>
<text transform="translate(302.81 585.96) scale(0.86 1)" font-size="5" text-anchor="middle" fill="#000" font-family="Liberation Sans, sans-serif">0.08</text>
<text transform="translate(316.35 585.96) scale(0.86 1)" font-size="5" text-anchor="middle" fill="#000" font-family="Liberation Sans, sans-serif">-0.01</text>
<text transform="translate(329.88 585.96) scale(0.86 1)" font-size="5" text-anchor="middle" fill="#000" font-family="Liberation Sans, sans-serif">0.04</text>
<text transform="translate(343.42 585.96) scale(0.86 1)" font-size="5" text-anchor="middle" fill="#000" font-family="Liberation Sans, sans-serif">0.18</text>
<text transform="translate(356.96 585.96) scale(0.86 1)" font-size="5" text-anchor="middle" fill="#000" font-family="Liberation Sans, sans-serif">0.41</text>
<text transform="translate(370.50 585.96) scale(0.86 1)" font-size="5" text-anchor="middle" fill="#000" font-family="Liberation Sans, sans-serif">0.07</text>
<text transform="translate(384.04 585.96) scale(0.86 1)" font-size="5" text-anchor="middle" fill="#000" font-family="Liberation Sans, sans-serif">-0.12</text>
<text transform="translate(397.58 585.96) scale(0.86 1)" font-size="5" text-anchor="middle" fill="#000" font-family="Liberation Sans, sans-serif">0.60</text>
<rect x="404.35" y="578.02" width="13.54" height="13.79" fill="#fff"/>
<rect x="404.35" y="578.02" width="13.54" height="13.79" fill="none" stroke="#e4e4e4" stroke-width="0.5"/>
<text transform="translate(424.65 585.96) scale(0.86 1)" font-size="5" text-anchor="middle" fill="#000" font-family="Liberation Sans, sans-serif">0.01</text>
<rect x="431.42" y="578.02" width="13.54" height="13.79" fill="#fff"/>
<rect x="444.96" y="578.02" width="13.54" height="13.79" fill="#f2444d"/>
<text transform="translate(451.73 585.96) scale(0.86 1)" font-size="5" text-anchor="middle" fill="#000" font-family="Liberation Sans, sans-serif">0.95</text>
<text transform="translate(289.27 599.75) scale(0.86 1)" font-size="5" text-anchor="middle" fill="#000" font-family="Liberation Sans, sans-serif">0.27</text>
<text transform="translate(302.81 599.75) scale(0.86 1)" font-size="5" text-anchor="middle" fill="#000" font-family="Liberation Sans, sans-serif">0.14</text>
<text transform="translate(316.35 599.75) scale(0.86 1)" font-size="5" text-anchor="middle" fill="#000" font-family="Liberation Sans, sans-serif">0.01</text>
<text transform="translate(329.88 599.75) scale(0.86 1)" font-size="5" text-anchor="middle" fill="#000" font-family="Liberation Sans, sans-serif">0.06</text>
<text transform="translate(343.42 599.75) scale(0.86 1)" font-size="5" text-anchor="middle" fill="#000" font-family="Liberation Sans, sans-serif">0.20</text>
<text transform="translate(356.96 599.75) scale(0.86 1)" font-size="5" text-anchor="middle" fill="#000" font-family="Liberation Sans, sans-serif">0.47</text>
<text transform="translate(370.50 599.75) scale(0.86 1)" font-size="5" text-anchor="middle" fill="#000" font-family="Liberation Sans, sans-serif">0.16</text>
<text transform="translate(384.04 599.75) scale(0.86 1)" font-size="5" text-anchor="middle" fill="#000" font-family="Liberation Sans, sans-serif">-0.03</text>
<text transform="translate(397.58 599.75) scale(0.86 1)" font-size="5" text-anchor="middle" fill="#000" font-family="Liberation Sans, sans-serif">0.59</text>
<rect x="404.35" y="591.81" width="13.54" height="13.79" fill="#fff"/>
<rect x="404.35" y="591.81" width="13.54" height="13.79" fill="none" stroke="#e4e4e4" stroke-width="0.5"/>
<text transform="translate(424.65 599.75) scale(0.86 1)" font-size="5" text-anchor="middle" fill="#000" font-family="Liberation Sans, sans-serif">0.11</text>
<rect x="431.42" y="591.81" width="13.54" height="13.79" fill="#f2444d"/>
<text transform="translate(438.19 599.75) scale(0.86 1)" font-size="5" text-anchor="middle" fill="#000" font-family="Liberation Sans, sans-serif">0.95</text>
<rect x="444.96" y="591.81" width="13.54" height="13.79" fill="#fff"/>
<path d="M458.50 426.30V605.60H282.50" fill="none" stroke="#8c8c8c" stroke-width="1.4"/>
<path d="M282.50 605.60V426.30H458.50" fill="none" stroke="#111" stroke-width="1.0"/>
<text x="278.70" y="434.50" font-size="5.3" font-weight="bold" fill="#000"  text-anchor="end" font-family="Liberation Sans, sans-serif">carmustine</text>
<text transform="translate(289.77 422.70) rotate(-90)" font-size="5.3" font-weight="bold" fill="#000"  font-family="Liberation Sans, sans-serif">carmustine</text>
<text x="278.70" y="448.29" font-size="5.5" font-weight="normal" fill="#161616"  text-anchor="end" font-family="Liberation Sans, sans-serif">cisplatin</text>
<text transform="translate(303.31 422.70) rotate(-90)" font-size="5.5" font-weight="normal" fill="#161616"  font-family="Liberation Sans, sans-serif">cisplatin</text>
<text x="278.70" y="462.08" font-size="5.5" font-weight="normal" fill="#161616"  text-anchor="end" font-family="Liberation Sans, sans-serif">doxorubicin</text>
<text transform="translate(316.85 422.70) rotate(-90)" font-size="5.5" font-weight="normal" fill="#161616"  font-family="Liberation Sans, sans-serif">doxorubicin</text>
<text x="278.70" y="475.87" font-size="5.5" font-weight="normal" fill="#161616"  text-anchor="end" font-family="Liberation Sans, sans-serif">erlotinib</text>
<text transform="translate(330.38 422.70) rotate(-90)" font-size="5.5" font-weight="normal" fill="#161616"  font-family="Liberation Sans, sans-serif">erlotinib</text>
<text x="278.70" y="489.67" font-size="5.5" font-weight="normal" fill="#161616"  text-anchor="end" font-family="Liberation Sans, sans-serif">irinotecan</text>
<text transform="translate(343.92 422.70) rotate(-90)" font-size="5.5" font-weight="normal" fill="#161616"  font-family="Liberation Sans, sans-serif">irinotecan</text>
<text x="278.70" y="503.46" font-size="5.3" font-weight="bold" fill="#000"  text-anchor="end" font-family="Liberation Sans, sans-serif">lomustine</text>
<text transform="translate(357.46 422.70) rotate(-90)" font-size="5.3" font-weight="bold" fill="#000"  font-family="Liberation Sans, sans-serif">lomustine</text>
<text x="278.70" y="517.25" font-size="5.5" font-weight="normal" fill="#161616"  text-anchor="end" font-family="Liberation Sans, sans-serif">paclitaxel</text>
<text transform="translate(371.00 422.70) rotate(-90)" font-size="5.5" font-weight="normal" fill="#161616"  font-family="Liberation Sans, sans-serif">paclitaxel</text>
<text x="278.70" y="531.04" font-size="5.5" font-weight="normal" fill="#161616"  text-anchor="end" font-family="Liberation Sans, sans-serif">procarbazine</text>
<text transform="translate(384.54 422.70) rotate(-90)" font-size="5.5" font-weight="normal" fill="#161616"  font-family="Liberation Sans, sans-serif">procarbazine</text>
<text x="278.70" y="544.83" font-size="5.5" font-weight="normal" fill="#161616"  text-anchor="end" font-family="Liberation Sans, sans-serif">sunitinib</text>
<text transform="translate(398.08 422.70) rotate(-90)" font-size="5.5" font-weight="normal" fill="#161616"  font-family="Liberation Sans, sans-serif">sunitinib</text>
<text x="278.70" y="558.63" font-size="5.3" font-weight="bold" fill="#000"  text-anchor="end" font-family="Liberation Sans, sans-serif">temozolomide</text>
<text transform="translate(411.62 422.70) rotate(-90)" font-size="5.3" font-weight="bold" fill="#000"  font-family="Liberation Sans, sans-serif">temozolomide</text>
<text x="278.70" y="572.42" font-size="5.5" font-weight="normal" fill="#161616"  text-anchor="end" font-family="Liberation Sans, sans-serif">vincristine</text>
<text transform="translate(425.15 422.70) rotate(-90)" font-size="5.5" font-weight="normal" fill="#161616"  font-family="Liberation Sans, sans-serif">vincristine</text>
<text x="262.60" y="586.21" font-size="5.7" font-weight="normal" fill="#161616"  text-anchor="middle" font-family="Liberation Sans, sans-serif">ZOT<tspan font-size="3.8" dy="1.0">5</tspan><tspan dy="-1.0">-1-Me</tspan></text>
<text transform="translate(438.69 422.70) rotate(-90)" font-size="5.2" font-weight="normal" fill="#161616"  font-family="Liberation Sans, sans-serif">ZOT<tspan font-size="3.8" dy="1.0">5</tspan><tspan dy="-1.0">-1-Me</tspan></text>
<text x="262.60" y="600.00" font-size="5.7" font-weight="normal" fill="#161616"  text-anchor="middle" font-family="Liberation Sans, sans-serif">ZOT<tspan font-size="3.8" dy="1.0">5</tspan><tspan dy="-1.0">-1-Et</tspan></text>
<text transform="translate(452.23 422.70) rotate(-90)" font-size="5.2" font-weight="normal" fill="#161616"  font-family="Liberation Sans, sans-serif">ZOT<tspan font-size="3.8" dy="1.0">5</tspan><tspan dy="-1.0">-1-Et</tspan></text>
<text x="598.0" y="379.0" font-size="8.8" font-weight="bold" text-anchor="middle" font-family="Liberation Sans, sans-serif">LC<tspan font-size="5.6" dy="1.8">50</tspan></text>
<rect x="509.50" y="427.20" width="175.00" height="178.80" fill="#bfbfbf"/>
<rect x="509.50" y="427.20" width="13.46" height="13.75" fill="#fff"/>
<text transform="translate(529.69 435.13) scale(0.86 1)" font-size="5" text-anchor="middle" fill="#000" font-family="Liberation Sans, sans-serif">0.14</text>
<text transform="translate(543.15 435.13) scale(0.86 1)" font-size="5" text-anchor="middle" fill="#000" font-family="Liberation Sans, sans-serif">0.22</text>
<text transform="translate(556.62 435.13) scale(0.86 1)" font-size="5" text-anchor="middle" fill="#000" font-family="Liberation Sans, sans-serif">0.11</text>
<text transform="translate(570.08 435.13) scale(0.86 1)" font-size="5" text-anchor="middle" fill="#000" font-family="Liberation Sans, sans-serif">0.02</text>
<text transform="translate(583.54 435.13) scale(0.86 1)" font-size="5" text-anchor="middle" fill="#000" font-family="Liberation Sans, sans-serif">0.42</text>
<text transform="translate(597.00 435.13) scale(0.86 1)" font-size="5" text-anchor="middle" fill="#000" font-family="Liberation Sans, sans-serif">0.29</text>
<text transform="translate(610.46 435.13) scale(0.86 1)" font-size="5" text-anchor="middle" fill="#000" font-family="Liberation Sans, sans-serif">0.02</text>
<text transform="translate(623.92 435.13) scale(0.86 1)" font-size="5" text-anchor="middle" fill="#000" font-family="Liberation Sans, sans-serif">0.33</text>
<rect x="630.65" y="427.20" width="13.46" height="13.75" fill="#fff"/>
<text transform="translate(650.85 435.13) scale(0.86 1)" font-size="5" text-anchor="middle" fill="#000" font-family="Liberation Sans, sans-serif">0.13</text>
<text transform="translate(664.31 435.13) scale(0.86 1)" font-size="5" text-anchor="middle" fill="#000" font-family="Liberation Sans, sans-serif">0.35</text>
<text transform="translate(677.77 435.13) scale(0.86 1)" font-size="5" text-anchor="middle" fill="#000" font-family="Liberation Sans, sans-serif">0.28</text>
<text transform="translate(516.23 448.88) scale(0.86 1)" font-size="5" text-anchor="middle" fill="#000" font-family="Liberation Sans, sans-serif">0.14</text>
<rect x="522.96" y="440.95" width="13.46" height="13.75" fill="#fff"/>
<text transform="translate(543.15 448.88) scale(0.86 1)" font-size="5" text-anchor="middle" fill="#000" font-family="Liberation Sans, sans-serif">0.46</text>
<text transform="translate(556.62 448.88) scale(0.86 1)" font-size="5" text-anchor="middle" fill="#000" font-family="Liberation Sans, sans-serif">0.21</text>
<text transform="translate(570.08 448.88) scale(0.86 1)" font-size="5" text-anchor="middle" fill="#000" font-family="Liberation Sans, sans-serif">0.42</text>
<text transform="translate(583.54 448.88) scale(0.86 1)" font-size="5" text-anchor="middle" fill="#000" font-family="Liberation Sans, sans-serif">0.17</text>
<text transform="translate(597.00 448.88) scale(0.86 1)" font-size="5" text-anchor="middle" fill="#000" font-family="Liberation Sans, sans-serif">0.31</text>
<text transform="translate(610.46 448.88) scale(0.86 1)" font-size="5" text-anchor="middle" fill="#000" font-family="Liberation Sans, sans-serif">0.10</text>
<text transform="translate(623.92 448.88) scale(0.86 1)" font-size="5" text-anchor="middle" fill="#000" font-family="Liberation Sans, sans-serif">0.53</text>
<rect x="630.65" y="440.95" width="13.46" height="13.75" fill="#fff"/>
<text transform="translate(650.85 448.88) scale(0.86 1)" font-size="5" text-anchor="middle" fill="#000" font-family="Liberation Sans, sans-serif">0.29</text>
<text transform="translate(664.31 448.88) scale(0.86 1)" font-size="5" text-anchor="middle" fill="#000" font-family="Liberation Sans, sans-serif">0.23</text>
<text transform="translate(677.77 448.88) scale(0.86 1)" font-size="5" text-anchor="middle" fill="#000" font-family="Liberation Sans, sans-serif">0.24</text>
<text transform="translate(516.23 462.63) scale(0.86 1)" font-size="5" text-anchor="middle" fill="#000" font-family="Liberation Sans, sans-serif">0.22</text>
<text transform="translate(529.69 462.63) scale(0.86 1)" font-size="5" text-anchor="middle" fill="#000" font-family="Liberation Sans, sans-serif">0.46</text>
<rect x="536.42" y="454.71" width="13.46" height="13.75" fill="#fff"/>
<text transform="translate(556.62 462.63) scale(0.86 1)" font-size="5" text-anchor="middle" fill="#000" font-family="Liberation Sans, sans-serif">0.17</text>
<text transform="translate(570.08 462.63) scale(0.86 1)" font-size="5" text-anchor="middle" fill="#000" font-family="Liberation Sans, sans-serif">0.30</text>
<text transform="translate(583.54 462.63) scale(0.86 1)" font-size="5" text-anchor="middle" fill="#000" font-family="Liberation Sans, sans-serif">0.34</text>
<text transform="translate(597.00 462.63) scale(0.86 1)" font-size="5" text-anchor="middle" fill="#000" font-family="Liberation Sans, sans-serif">0.48</text>
<text transform="translate(610.46 462.63) scale(0.86 1)" font-size="5" text-anchor="middle" fill="#000" font-family="Liberation Sans, sans-serif">0.02</text>
<text transform="translate(623.92 462.63) scale(0.86 1)" font-size="5" text-anchor="middle" fill="#000" font-family="Liberation Sans, sans-serif">0.40</text>
<rect x="630.65" y="454.71" width="13.46" height="13.75" fill="#fff"/>
<text transform="translate(650.85 462.63) scale(0.86 1)" font-size="5" text-anchor="middle" fill="#000" font-family="Liberation Sans, sans-serif">0.37</text>
<text transform="translate(664.31 462.63) scale(0.86 1)" font-size="5" text-anchor="middle" fill="#000" font-family="Liberation Sans, sans-serif">0.31</text>
<text transform="translate(677.77 462.63) scale(0.86 1)" font-size="5" text-anchor="middle" fill="#000" font-family="Liberation Sans, sans-serif">0.29</text>
<text transform="translate(516.23 476.39) scale(0.86 1)" font-size="5" text-anchor="middle" fill="#000" font-family="Liberation Sans, sans-serif">0.11</text>
<text transform="translate(529.69 476.39) scale(0.86 1)" font-size="5" text-anchor="middle" fill="#000" font-family="Liberation Sans, sans-serif">0.21</text>
<text transform="translate(543.15 476.39) scale(0.86 1)" font-size="5" text-anchor="middle" fill="#000" font-family="Liberation Sans, sans-serif">0.17</text>
<rect x="549.88" y="468.46" width="13.46" height="13.75" fill="#fff"/>
<text transform="translate(570.08 476.39) scale(0.86 1)" font-size="5" text-anchor="middle" fill="#000" font-family="Liberation Sans, sans-serif">0.26</text>
<text transform="translate(583.54 476.39) scale(0.86 1)" font-size="5" text-anchor="middle" fill="#000" font-family="Liberation Sans, sans-serif">0.23</text>
<text transform="translate(597.00 476.39) scale(0.86 1)" font-size="5" text-anchor="middle" fill="#000" font-family="Liberation Sans, sans-serif">-0.07</text>
<text transform="translate(610.46 476.39) scale(0.86 1)" font-size="5" text-anchor="middle" fill="#000" font-family="Liberation Sans, sans-serif">0.07</text>
<text transform="translate(623.92 476.39) scale(0.86 1)" font-size="5" text-anchor="middle" fill="#000" font-family="Liberation Sans, sans-serif">-0.04</text>
<rect x="630.65" y="468.46" width="13.46" height="13.75" fill="#fff"/>
<text transform="translate(650.85 476.39) scale(0.86 1)" font-size="5" text-anchor="middle" fill="#000" font-family="Liberation Sans, sans-serif">-0.12</text>
<text transform="translate(664.31 476.39) scale(0.86 1)" font-size="5" text-anchor="middle" fill="#000" font-family="Liberation Sans, sans-serif">0.06</text>
<text transform="translate(677.77 476.39) scale(0.86 1)" font-size="5" text-anchor="middle" fill="#000" font-family="Liberation Sans, sans-serif">0.07</text>
<text transform="translate(516.23 490.14) scale(0.86 1)" font-size="5" text-anchor="middle" fill="#000" font-family="Liberation Sans, sans-serif">0.02</text>
<text transform="translate(529.69 490.14) scale(0.86 1)" font-size="5" text-anchor="middle" fill="#000" font-family="Liberation Sans, sans-serif">0.42</text>
<text transform="translate(543.15 490.14) scale(0.86 1)" font-size="5" text-anchor="middle" fill="#000" font-family="Liberation Sans, sans-serif">0.30</text>
<text transform="translate(556.62 490.14) scale(0.86 1)" font-size="5" text-anchor="middle" fill="#000" font-family="Liberation Sans, sans-serif">0.26</text>
<rect x="563.35" y="482.22" width="13.46" height="13.75" fill="#fff"/>
<text transform="translate(583.54 490.14) scale(0.86 1)" font-size="5" text-anchor="middle" fill="#000" font-family="Liberation Sans, sans-serif">0.06</text>
<text transform="translate(597.00 490.14) scale(0.86 1)" font-size="5" text-anchor="middle" fill="#000" font-family="Liberation Sans, sans-serif">0.07</text>
<text transform="translate(610.46 490.14) scale(0.86 1)" font-size="5" text-anchor="middle" fill="#000" font-family="Liberation Sans, sans-serif">0.02</text>
<text transform="translate(623.92 490.14) scale(0.86 1)" font-size="5" text-anchor="middle" fill="#000" font-family="Liberation Sans, sans-serif">0.38</text>
<rect x="630.65" y="482.22" width="13.46" height="13.75" fill="#fff"/>
<text transform="translate(650.85 490.14) scale(0.86 1)" font-size="5" text-anchor="middle" fill="#000" font-family="Liberation Sans, sans-serif">0.21</text>
<text transform="translate(664.31 490.14) scale(0.86 1)" font-size="5" text-anchor="middle" fill="#000" font-family="Liberation Sans, sans-serif">0.23</text>
<text transform="translate(677.77 490.14) scale(0.86 1)" font-size="5" text-anchor="middle" fill="#000" font-family="Liberation Sans, sans-serif">0.28</text>
<text transform="translate(516.23 503.90) scale(0.86 1)" font-size="5" text-anchor="middle" fill="#000" font-family="Liberation Sans, sans-serif">0.42</text>
<text transform="translate(529.69 503.90) scale(0.86 1)" font-size="5" text-anchor="middle" fill="#000" font-family="Liberation Sans, sans-serif">0.17</text>
<text transform="translate(543.15 503.90) scale(0.86 1)" font-size="5" text-anchor="middle" fill="#000" font-family="Liberation Sans, sans-serif">0.34</text>
<text transform="translate(556.62 503.90) scale(0.86 1)" font-size="5" text-anchor="middle" fill="#000" font-family="Liberation Sans, sans-serif">0.23</text>
<text transform="translate(570.08 503.90) scale(0.86 1)" font-size="5" text-anchor="middle" fill="#000" font-family="Liberation Sans, sans-serif">0.06</text>
<rect x="576.81" y="495.97" width="13.46" height="13.75" fill="#fff"/>
<text transform="translate(597.00 503.90) scale(0.86 1)" font-size="5" text-anchor="middle" fill="#000" font-family="Liberation Sans, sans-serif">0.40</text>
<text transform="translate(610.46 503.90) scale(0.86 1)" font-size="5" text-anchor="middle" fill="#000" font-family="Liberation Sans, sans-serif">0.15</text>
<text transform="translate(623.92 503.90) scale(0.86 1)" font-size="5" text-anchor="middle" fill="#000" font-family="Liberation Sans, sans-serif">0.34</text>
<rect x="630.65" y="495.97" width="13.46" height="13.75" fill="#fff"/>
<text transform="translate(650.85 503.90) scale(0.86 1)" font-size="5" text-anchor="middle" fill="#000" font-family="Liberation Sans, sans-serif">0.19</text>
<text transform="translate(664.31 503.90) scale(0.86 1)" font-size="5" text-anchor="middle" fill="#000" font-family="Liberation Sans, sans-serif">0.50</text>
<text transform="translate(677.77 503.90) scale(0.86 1)" font-size="5" text-anchor="middle" fill="#000" font-family="Liberation Sans, sans-serif">0.46</text>
<text transform="translate(516.23 517.65) scale(0.86 1)" font-size="5" text-anchor="middle" fill="#000" font-family="Liberation Sans, sans-serif">0.29</text>
<text transform="translate(529.69 517.65) scale(0.86 1)" font-size="5" text-anchor="middle" fill="#000" font-family="Liberation Sans, sans-serif">0.31</text>
<text transform="translate(543.15 517.65) scale(0.86 1)" font-size="5" text-anchor="middle" fill="#000" font-family="Liberation Sans, sans-serif">0.48</text>
<text transform="translate(556.62 517.65) scale(0.86 1)" font-size="5" text-anchor="middle" fill="#000" font-family="Liberation Sans, sans-serif">-0.07</text>
<text transform="translate(570.08 517.65) scale(0.86 1)" font-size="5" text-anchor="middle" fill="#000" font-family="Liberation Sans, sans-serif">0.07</text>
<text transform="translate(583.54 517.65) scale(0.86 1)" font-size="5" text-anchor="middle" fill="#000" font-family="Liberation Sans, sans-serif">0.40</text>
<rect x="590.27" y="509.72" width="13.46" height="13.75" fill="#fff"/>
<text transform="translate(610.46 517.65) scale(0.86 1)" font-size="5" text-anchor="middle" fill="#000" font-family="Liberation Sans, sans-serif">0.08</text>
<text transform="translate(623.92 517.65) scale(0.86 1)" font-size="5" text-anchor="middle" fill="#000" font-family="Liberation Sans, sans-serif">0.38</text>
<rect x="630.65" y="509.72" width="13.46" height="13.75" fill="#fff"/>
<text transform="translate(650.85 517.65) scale(0.86 1)" font-size="5" text-anchor="middle" fill="#000" font-family="Liberation Sans, sans-serif">0.68</text>
<text transform="translate(664.31 517.65) scale(0.86 1)" font-size="5" text-anchor="middle" fill="#000" font-family="Liberation Sans, sans-serif">0.35</text>
<text transform="translate(677.77 517.65) scale(0.86 1)" font-size="5" text-anchor="middle" fill="#000" font-family="Liberation Sans, sans-serif">0.31</text>
<text transform="translate(516.23 531.40) scale(0.86 1)" font-size="5" text-anchor="middle" fill="#000" font-family="Liberation Sans, sans-serif">0.02</text>
<text transform="translate(529.69 531.40) scale(0.86 1)" font-size="5" text-anchor="middle" fill="#000" font-family="Liberation Sans, sans-serif">0.10</text>
<text transform="translate(543.15 531.40) scale(0.86 1)" font-size="5" text-anchor="middle" fill="#000" font-family="Liberation Sans, sans-serif">0.02</text>
<text transform="translate(556.62 531.40) scale(0.86 1)" font-size="5" text-anchor="middle" fill="#000" font-family="Liberation Sans, sans-serif">0.07</text>
<text transform="translate(570.08 531.40) scale(0.86 1)" font-size="5" text-anchor="middle" fill="#000" font-family="Liberation Sans, sans-serif">0.02</text>
<text transform="translate(583.54 531.40) scale(0.86 1)" font-size="5" text-anchor="middle" fill="#000" font-family="Liberation Sans, sans-serif">0.15</text>
<text transform="translate(597.00 531.40) scale(0.86 1)" font-size="5" text-anchor="middle" fill="#000" font-family="Liberation Sans, sans-serif">0.08</text>
<rect x="603.73" y="523.48" width="13.46" height="13.75" fill="#fff"/>
<text transform="translate(623.92 531.40) scale(0.86 1)" font-size="5" text-anchor="middle" fill="#000" font-family="Liberation Sans, sans-serif">-0.09</text>
<rect x="630.65" y="523.48" width="13.46" height="13.75" fill="#fff"/>
<text transform="translate(650.85 531.40) scale(0.86 1)" font-size="5" text-anchor="middle" fill="#000" font-family="Liberation Sans, sans-serif">0.02</text>
<text transform="translate(664.31 531.40) scale(0.86 1)" font-size="5" text-anchor="middle" fill="#000" font-family="Liberation Sans, sans-serif">-0.01</text>
<text transform="translate(677.77 531.40) scale(0.86 1)" font-size="5" text-anchor="middle" fill="#000" font-family="Liberation Sans, sans-serif">0.06</text>
<text transform="translate(516.23 545.16) scale(0.86 1)" font-size="5" text-anchor="middle" fill="#000" font-family="Liberation Sans, sans-serif">0.33</text>
<text transform="translate(529.69 545.16) scale(0.86 1)" font-size="5" text-anchor="middle" fill="#000" font-family="Liberation Sans, sans-serif">0.53</text>
<text transform="translate(543.15 545.16) scale(0.86 1)" font-size="5" text-anchor="middle" fill="#000" font-family="Liberation Sans, sans-serif">0.40</text>
<text transform="translate(556.62 545.16) scale(0.86 1)" font-size="5" text-anchor="middle" fill="#000" font-family="Liberation Sans, sans-serif">-0.04</text>
<text transform="translate(570.08 545.16) scale(0.86 1)" font-size="5" text-anchor="middle" fill="#000" font-family="Liberation Sans, sans-serif">0.38</text>
<text transform="translate(583.54 545.16) scale(0.86 1)" font-size="5" text-anchor="middle" fill="#000" font-family="Liberation Sans, sans-serif">0.34</text>
<text transform="translate(597.00 545.16) scale(0.86 1)" font-size="5" text-anchor="middle" fill="#000" font-family="Liberation Sans, sans-serif">0.38</text>
<text transform="translate(610.46 545.16) scale(0.86 1)" font-size="5" text-anchor="middle" fill="#000" font-family="Liberation Sans, sans-serif">-0.09</text>
<rect x="617.19" y="537.23" width="13.46" height="13.75" fill="#fff"/>
<rect x="630.65" y="537.23" width="13.46" height="13.75" fill="#fff"/>
<text transform="translate(650.85 545.16) scale(0.86 1)" font-size="5" text-anchor="middle" fill="#000" font-family="Liberation Sans, sans-serif">0.49</text>
<text transform="translate(664.31 545.16) scale(0.86 1)" font-size="5" text-anchor="middle" fill="#000" font-family="Liberation Sans, sans-serif">0.60</text>
<text transform="translate(677.77 545.16) scale(0.86 1)" font-size="5" text-anchor="middle" fill="#000" font-family="Liberation Sans, sans-serif">0.49</text>
<rect x="509.50" y="550.98" width="13.46" height="13.75" fill="#fff"/>
<rect x="522.96" y="550.98" width="13.46" height="13.75" fill="#fff"/>
<rect x="536.42" y="550.98" width="13.46" height="13.75" fill="#fff"/>
<rect x="549.88" y="550.98" width="13.46" height="13.75" fill="#fff"/>
<rect x="563.35" y="550.98" width="13.46" height="13.75" fill="#fff"/>
<rect x="576.81" y="550.98" width="13.46" height="13.75" fill="#fff"/>
<rect x="590.27" y="550.98" width="13.46" height="13.75" fill="#fff"/>
<rect x="603.73" y="550.98" width="13.46" height="13.75" fill="#fff"/>
<rect x="617.19" y="550.98" width="13.46" height="13.75" fill="#fff"/>
<rect x="630.65" y="550.98" width="13.46" height="13.75" fill="#fff"/>
<rect x="644.12" y="550.98" width="13.46" height="13.75" fill="#fff"/>
<rect x="657.58" y="550.98" width="13.46" height="13.75" fill="#fff"/>
<rect x="671.04" y="550.98" width="13.46" height="13.75" fill="#fff"/>
<text transform="translate(516.23 572.67) scale(0.86 1)" font-size="5" text-anchor="middle" fill="#000" font-family="Liberation Sans, sans-serif">0.13</text>
<text transform="translate(529.69 572.67) scale(0.86 1)" font-size="5" text-anchor="middle" fill="#000" font-family="Liberation Sans, sans-serif">0.29</text>
<text transform="translate(543.15 572.67) scale(0.86 1)" font-size="5" text-anchor="middle" fill="#000" font-family="Liberation Sans, sans-serif">0.37</text>
<text transform="translate(556.62 572.67) scale(0.86 1)" font-size="5" text-anchor="middle" fill="#000" font-family="Liberation Sans, sans-serif">-0.12</text>
<text transform="translate(570.08 572.67) scale(0.86 1)" font-size="5" text-anchor="middle" fill="#000" font-family="Liberation Sans, sans-serif">0.21</text>
<text transform="translate(583.54 572.67) scale(0.86 1)" font-size="5" text-anchor="middle" fill="#000" font-family="Liberation Sans, sans-serif">0.19</text>
<text transform="translate(597.00 572.67) scale(0.86 1)" font-size="5" text-anchor="middle" fill="#000" font-family="Liberation Sans, sans-serif">0.68</text>
<text transform="translate(610.46 572.67) scale(0.86 1)" font-size="5" text-anchor="middle" fill="#000" font-family="Liberation Sans, sans-serif">0.02</text>
<text transform="translate(623.92 572.67) scale(0.86 1)" font-size="5" text-anchor="middle" fill="#000" font-family="Liberation Sans, sans-serif">0.49</text>
<rect x="630.65" y="564.74" width="13.46" height="13.75" fill="#fff"/>
<rect x="644.12" y="564.74" width="13.46" height="13.75" fill="#fff"/>
<text transform="translate(664.31 572.67) scale(0.86 1)" font-size="5" text-anchor="middle" fill="#000" font-family="Liberation Sans, sans-serif">0.25</text>
<text transform="translate(677.77 572.67) scale(0.86 1)" font-size="5" text-anchor="middle" fill="#000" font-family="Liberation Sans, sans-serif">0.25</text>
<text transform="translate(516.23 586.42) scale(0.86 1)" font-size="5" text-anchor="middle" fill="#000" font-family="Liberation Sans, sans-serif">0.35</text>
<text transform="translate(529.69 586.42) scale(0.86 1)" font-size="5" text-anchor="middle" fill="#000" font-family="Liberation Sans, sans-serif">0.23</text>
<text transform="translate(543.15 586.42) scale(0.86 1)" font-size="5" text-anchor="middle" fill="#000" font-family="Liberation Sans, sans-serif">0.31</text>
<text transform="translate(556.62 586.42) scale(0.86 1)" font-size="5" text-anchor="middle" fill="#000" font-family="Liberation Sans, sans-serif">0.06</text>
<text transform="translate(570.08 586.42) scale(0.86 1)" font-size="5" text-anchor="middle" fill="#000" font-family="Liberation Sans, sans-serif">0.23</text>
<text transform="translate(583.54 586.42) scale(0.86 1)" font-size="5" text-anchor="middle" fill="#000" font-family="Liberation Sans, sans-serif">0.50</text>
<text transform="translate(597.00 586.42) scale(0.86 1)" font-size="5" text-anchor="middle" fill="#000" font-family="Liberation Sans, sans-serif">0.35</text>
<text transform="translate(610.46 586.42) scale(0.86 1)" font-size="5" text-anchor="middle" fill="#000" font-family="Liberation Sans, sans-serif">-0.01</text>
<text transform="translate(623.92 586.42) scale(0.86 1)" font-size="5" text-anchor="middle" fill="#000" font-family="Liberation Sans, sans-serif">0.60</text>
<rect x="630.65" y="578.49" width="13.46" height="13.75" fill="#fff"/>
<text transform="translate(650.85 586.42) scale(0.86 1)" font-size="5" text-anchor="middle" fill="#000" font-family="Liberation Sans, sans-serif">0.25</text>
<rect x="657.58" y="578.49" width="13.46" height="13.75" fill="#fff"/>
<rect x="671.04" y="578.49" width="13.46" height="13.75" fill="#f2444d"/>
<text transform="translate(677.77 586.42) scale(0.86 1)" font-size="5" text-anchor="middle" fill="#000" font-family="Liberation Sans, sans-serif">0.88</text>
<text transform="translate(516.23 600.17) scale(0.86 1)" font-size="5" text-anchor="middle" fill="#000" font-family="Liberation Sans, sans-serif">0.28</text>
<text transform="translate(529.69 600.17) scale(0.86 1)" font-size="5" text-anchor="middle" fill="#000" font-family="Liberation Sans, sans-serif">0.24</text>
<text transform="translate(543.15 600.17) scale(0.86 1)" font-size="5" text-anchor="middle" fill="#000" font-family="Liberation Sans, sans-serif">0.29</text>
<text transform="translate(556.62 600.17) scale(0.86 1)" font-size="5" text-anchor="middle" fill="#000" font-family="Liberation Sans, sans-serif">0.07</text>
<text transform="translate(570.08 600.17) scale(0.86 1)" font-size="5" text-anchor="middle" fill="#000" font-family="Liberation Sans, sans-serif">0.28</text>
<text transform="translate(583.54 600.17) scale(0.86 1)" font-size="5" text-anchor="middle" fill="#000" font-family="Liberation Sans, sans-serif">0.46</text>
<text transform="translate(597.00 600.17) scale(0.86 1)" font-size="5" text-anchor="middle" fill="#000" font-family="Liberation Sans, sans-serif">0.31</text>
<text transform="translate(610.46 600.17) scale(0.86 1)" font-size="5" text-anchor="middle" fill="#000" font-family="Liberation Sans, sans-serif">0.06</text>
<text transform="translate(623.92 600.17) scale(0.86 1)" font-size="5" text-anchor="middle" fill="#000" font-family="Liberation Sans, sans-serif">0.49</text>
<rect x="630.65" y="592.25" width="13.46" height="13.75" fill="#fff"/>
<text transform="translate(650.85 600.17) scale(0.86 1)" font-size="5" text-anchor="middle" fill="#000" font-family="Liberation Sans, sans-serif">0.25</text>
<rect x="657.58" y="592.25" width="13.46" height="13.75" fill="#f2444d"/>
<text transform="translate(664.31 600.17) scale(0.86 1)" font-size="5" text-anchor="middle" fill="#000" font-family="Liberation Sans, sans-serif">0.88</text>
<rect x="671.04" y="592.25" width="13.46" height="13.75" fill="#fff"/>
<line x1="630.65" y1="440.95" x2="644.12" y2="440.95" stroke="#8a8a8a" stroke-width="0.7"/>
<line x1="630.65" y1="454.71" x2="644.12" y2="454.71" stroke="#8a8a8a" stroke-width="0.7"/>
<line x1="630.65" y1="468.46" x2="644.12" y2="468.46" stroke="#222" stroke-width="0.8"/>
<line x1="630.65" y1="482.22" x2="644.12" y2="482.22" stroke="#8a8a8a" stroke-width="0.7"/>
<line x1="630.65" y1="495.97" x2="644.12" y2="495.97" stroke="#8a8a8a" stroke-width="0.7"/>
<line x1="630.65" y1="509.72" x2="644.12" y2="509.72" stroke="#222" stroke-width="0.8"/>
<line x1="630.65" y1="523.48" x2="644.12" y2="523.48" stroke="#222" stroke-width="0.8"/>
<line x1="630.65" y1="537.23" x2="644.12" y2="537.23" stroke="#8a8a8a" stroke-width="0.7"/>
<line x1="630.65" y1="550.98" x2="644.12" y2="550.98" stroke="#222" stroke-width="0.8"/>
<line x1="630.65" y1="564.74" x2="644.12" y2="564.74" stroke="#222" stroke-width="0.8"/>
<line x1="630.65" y1="578.49" x2="644.12" y2="578.49" stroke="#222" stroke-width="0.8"/>
<line x1="522.96" y1="550.98" x2="522.96" y2="564.74" stroke="#222" stroke-width="0.8"/>
<line x1="536.42" y1="550.98" x2="536.42" y2="564.74" stroke="#222" stroke-width="0.8"/>
<line x1="549.88" y1="550.98" x2="549.88" y2="564.74" stroke="#222" stroke-width="0.8"/>
<line x1="563.35" y1="550.98" x2="563.35" y2="564.74" stroke="#222" stroke-width="0.8"/>
<line x1="576.81" y1="550.98" x2="576.81" y2="564.74" stroke="#222" stroke-width="0.8"/>
<line x1="590.27" y1="550.98" x2="590.27" y2="564.74" stroke="#222" stroke-width="0.8"/>
<line x1="603.73" y1="550.98" x2="603.73" y2="564.74" stroke="#222" stroke-width="0.8"/>
<line x1="617.19" y1="550.98" x2="617.19" y2="564.74" stroke="#222" stroke-width="0.8"/>
<line x1="630.65" y1="550.98" x2="630.65" y2="564.74" stroke="#222" stroke-width="0.8"/>
<line x1="644.12" y1="550.98" x2="644.12" y2="564.74" stroke="#222" stroke-width="0.8"/>
<line x1="657.58" y1="550.98" x2="657.58" y2="564.74" stroke="#222" stroke-width="0.8"/>
<line x1="671.04" y1="550.98" x2="671.04" y2="564.74" stroke="#222" stroke-width="0.8"/>
<line x1="630.65" y1="523.48" x2="630.65" y2="578.49" stroke="#222" stroke-width="0.7"/>
<line x1="644.12" y1="550.98" x2="644.12" y2="578.49" stroke="#222" stroke-width="0.7"/>
<line x1="644.12" y1="564.74" x2="657.58" y2="564.74" stroke="#222" stroke-width="0.8"/>
<rect x="509.50" y="427.20" width="175.00" height="178.80" fill="none" stroke="#555" stroke-width="1.25"/>
<text x="505.70" y="435.38" font-size="5.3" font-weight="bold" fill="#000"  text-anchor="end" font-family="Liberation Sans, sans-serif">carmustine</text>
<text transform="translate(516.73 423.60) rotate(-90)" font-size="5.3" font-weight="bold" fill="#000"  font-family="Liberation Sans, sans-serif">carmustine</text>
<text x="505.70" y="449.13" font-size="5.5" font-weight="normal" fill="#161616"  text-anchor="end" font-family="Liberation Sans, sans-serif">cisplatin</text>
<text transform="translate(530.19 423.60) rotate(-90)" font-size="5.5" font-weight="normal" fill="#161616"  font-family="Liberation Sans, sans-serif">cisplatin</text>
<text x="505.70" y="462.88" font-size="5.5" font-weight="normal" fill="#161616"  text-anchor="end" font-family="Liberation Sans, sans-serif">doxorubicin</text>
<text transform="translate(543.65 423.60) rotate(-90)" font-size="5.5" font-weight="normal" fill="#161616"  font-family="Liberation Sans, sans-serif">doxorubicin</text>
<text x="505.70" y="476.64" font-size="5.5" font-weight="normal" fill="#161616"  text-anchor="end" font-family="Liberation Sans, sans-serif">erlotinib</text>
<text transform="translate(557.12 423.60) rotate(-90)" font-size="5.5" font-weight="normal" fill="#161616"  font-family="Liberation Sans, sans-serif">erlotinib</text>
<text x="505.70" y="490.39" font-size="5.5" font-weight="normal" fill="#161616"  text-anchor="end" font-family="Liberation Sans, sans-serif">irinotecan</text>
<text transform="translate(570.58 423.60) rotate(-90)" font-size="5.5" font-weight="normal" fill="#161616"  font-family="Liberation Sans, sans-serif">irinotecan</text>
<text x="505.70" y="504.15" font-size="5.3" font-weight="bold" fill="#000"  text-anchor="end" font-family="Liberation Sans, sans-serif">lomustine</text>
<text transform="translate(584.04 423.60) rotate(-90)" font-size="5.3" font-weight="bold" fill="#000"  font-family="Liberation Sans, sans-serif">lomustine</text>
<text x="505.70" y="517.90" font-size="5.5" font-weight="normal" fill="#161616"  text-anchor="end" font-family="Liberation Sans, sans-serif">paclitaxel</text>
<text transform="translate(597.50 423.60) rotate(-90)" font-size="5.5" font-weight="normal" fill="#161616"  font-family="Liberation Sans, sans-serif">paclitaxel</text>
<text x="505.70" y="531.65" font-size="5.5" font-weight="normal" fill="#161616"  text-anchor="end" font-family="Liberation Sans, sans-serif">procarbazine</text>
<text transform="translate(610.96 423.60) rotate(-90)" font-size="5.5" font-weight="normal" fill="#161616"  font-family="Liberation Sans, sans-serif">procarbazine</text>
<text x="505.70" y="545.41" font-size="5.5" font-weight="normal" fill="#161616"  text-anchor="end" font-family="Liberation Sans, sans-serif">sunitinib</text>
<text transform="translate(624.42 423.60) rotate(-90)" font-size="5.5" font-weight="normal" fill="#161616"  font-family="Liberation Sans, sans-serif">sunitinib</text>
<text x="505.70" y="559.16" font-size="5.3" font-weight="bold" fill="#000"  text-anchor="end" font-family="Liberation Sans, sans-serif">temozolomide</text>
<text transform="translate(637.88 423.60) rotate(-90)" font-size="5.3" font-weight="bold" fill="#000"  font-family="Liberation Sans, sans-serif">temozolomide</text>
<text x="505.70" y="572.92" font-size="5.5" font-weight="normal" fill="#161616"  text-anchor="end" font-family="Liberation Sans, sans-serif">vincristine</text>
<text transform="translate(651.35 423.60) rotate(-90)" font-size="5.5" font-weight="normal" fill="#161616"  font-family="Liberation Sans, sans-serif">vincristine</text>
<text x="489.60" y="586.67" font-size="5.7" font-weight="normal" fill="#161616"  text-anchor="middle" font-family="Liberation Sans, sans-serif">ZOT<tspan font-size="3.8" dy="1.0">5</tspan><tspan dy="-1.0">-1-Me</tspan></text>
<text transform="translate(664.81 423.60) rotate(-90)" font-size="5.2" font-weight="normal" fill="#161616"  font-family="Liberation Sans, sans-serif">ZOT<tspan font-size="3.8" dy="1.0">5</tspan><tspan dy="-1.0">-1-Me</tspan></text>
<text x="489.60" y="600.42" font-size="5.7" font-weight="normal" fill="#161616"  text-anchor="middle" font-family="Liberation Sans, sans-serif">ZOT<tspan font-size="3.8" dy="1.0">5</tspan><tspan dy="-1.0">-1-Et</tspan></text>
<text transform="translate(678.27 423.60) rotate(-90)" font-size="5.2" font-weight="normal" fill="#161616"  font-family="Liberation Sans, sans-serif">ZOT<tspan font-size="3.8" dy="1.0">5</tspan><tspan dy="-1.0">-1-Et</tspan></text>
</svg>
</body></html>
